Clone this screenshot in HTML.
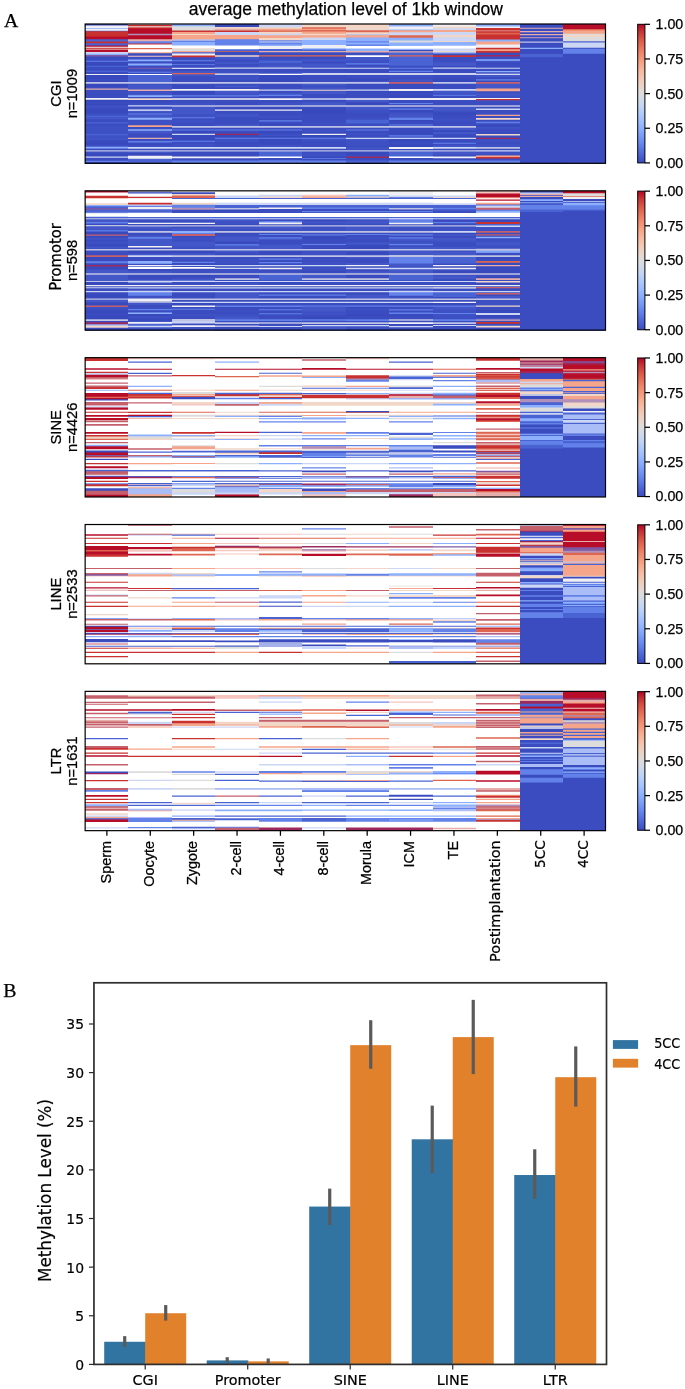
<!DOCTYPE html>
<html lang="en"><head><meta charset="utf-8"><title>average methylation level of 1kb window</title>
<style>html,body{margin:0;padding:0;background:#fff}body{width:685px;height:1389px;overflow:hidden}svg{display:block}.ca{stroke:#3b4cc0}.cb{stroke:#f0f0f4}.cc{stroke:#8db0fe}.cd{stroke:#4a63d3}.ce{stroke:#c8312f}.cf{stroke:#b70d28}.cg{stroke:#e6aeaa}.ch{stroke:#ccd6f5}.ci{stroke:#7f58a4}.cj{stroke:#6282ea}.ck{stroke:#3848bd}.cl{stroke:#bfc3e4}.cm{stroke:#3e51c4}.cn{stroke:#4357c9}.co{stroke:#b090b8}.cp{stroke:#ffffff}.cq{stroke:#de6651}.cr{stroke:#f4a58a}.cs{stroke:#f5c6c0}.ct{stroke:#f2d6c8}.cu{stroke:#dddcdc}.cv{stroke:#9c2a5c}.cw{stroke:#c4606c}.cx{stroke:#aabdf6}text{fill:#000;stroke:#000;stroke-width:.25px;stroke-linejoin:round}text.n{stroke-width:.2px}.s{font-family:"Liberation Sans", sans-serif}.d{font-family:"DejaVu Sans", sans-serif}.t{font-family:"Liberation Serif", serif}</style></head><body>
<svg width="685" height="1389" viewBox="0 0 685 1389">
<rect width="685" height="1389" fill="#fff"/>
<defs><linearGradient id="cw" x1="0" y1="1" x2="0" y2="0">
<stop offset="0" stop-color="#3b4cc0"/>
<stop offset="0.05" stop-color="#4961d2"/>
<stop offset="0.1" stop-color="#5977e3"/>
<stop offset="0.15" stop-color="#6a8bef"/>
<stop offset="0.2" stop-color="#7b9ff9"/>
<stop offset="0.25" stop-color="#8db0fe"/>
<stop offset="0.3" stop-color="#9ebeff"/>
<stop offset="0.35" stop-color="#afcafc"/>
<stop offset="0.4" stop-color="#c0d4f5"/>
<stop offset="0.45" stop-color="#cfdaea"/>
<stop offset="0.5" stop-color="#dddcdc"/>
<stop offset="0.55" stop-color="#e9d5cb"/>
<stop offset="0.6" stop-color="#f2cbb7"/>
<stop offset="0.65" stop-color="#f6bda2"/>
<stop offset="0.7" stop-color="#f7ac8e"/>
<stop offset="0.75" stop-color="#f4987a"/>
<stop offset="0.8" stop-color="#ee8468"/>
<stop offset="0.85" stop-color="#e36c55"/>
<stop offset="0.9" stop-color="#d65244"/>
<stop offset="0.95" stop-color="#c53334"/>
<stop offset="1" stop-color="#b40426"/>
</linearGradient>
</defs>
<text class="s" x="345.9" y="15.0" font-size="17.5" text-anchor="middle">average methylation level of 1kb window</text>
<text class="t" x="3.9" y="27.2" font-size="19.8" stroke="none">A</text>
<text class="t" x="3.2" y="997.0" font-size="19.8" stroke="none">B</text>
<g>
<g transform="translate(106.5 24)" stroke-width="43">
<path class="ca" d="M0 0V139.3"/><path class="cb" d="M0 1.6V139.3"/><path class="cc" d="M0 4.17V139.3"/><path class="cb" d="M0 4.94V139.3"/><path class="cd" d="M0 6.74V139.3"/><path class="ce" d="M0 7.25V139.3"/><path class="cf" d="M0 12.39V139.3"/><path class="cd" d="M0 15.34V139.3"/><path class="ce" d="M0 17.5V139.3"/><path class="cd" d="M0 19.35V139.3"/><path class="cf" d="M0 21.38V139.3"/><path class="cb" d="M0 22.67V139.3"/><path class="ce" d="M0 23.69V139.3"/><path class="cg" d="M0 24.72V139.3"/><path class="cf" d="M0 25.75V139.3"/><path class="ch" d="M0 28.06V139.3"/><path class="cc" d="M0 29.86V139.3"/><path class="ci" d="M0 30.89V139.3"/><path class="ca" d="M0 32.43V139.3"/><path class="cj" d="M0 36.67V139.3"/><path class="ck" d="M0 37.7V139.3"/><path class="cd" d="M0 41.68V139.3"/><path class="ca" d="M0 42.96V139.3"/><path class="cd" d="M0 46.82V139.3"/><path class="ca" d="M0 48.1V139.3"/><path class="cb" d="M0 49.91V139.3"/><path class="ck" d="M0 51.05V139.3"/><path class="ca" d="M0 54.91V139.3"/><path class="ck" d="M0 56.45V139.3"/><path class="cl" d="M0 57.96V139.3"/><path class="ck" d="M0 59.7V139.3"/><path class="ca" d="M0 62.8V139.3"/><path class="cg" d="M0 64.44V139.3"/><path class="ca" d="M0 65.68V139.3"/><path class="cb" d="M0 74V139.3"/><path class="ck" d="M0 75.64V139.3"/><path class="ca" d="M0 77.97V139.3"/><path class="ck" d="M0 79.86V139.3"/><path class="cm" d="M0 81.35V139.3"/><path class="ca" d="M0 83.87V139.3"/><path class="ck" d="M0 85.35V139.3"/><path class="cm" d="M0 89.42V139.3"/><path class="cd" d="M0 91.78V139.3"/><path class="cn" d="M0 93.07V139.3"/><path class="ca" d="M0 95.25V139.3"/><path class="cd" d="M0 98.21V139.3"/><path class="ca" d="M0 99.49V139.3"/><path class="cm" d="M0 102.3V139.3"/><path class="ca" d="M0 108.74V139.3"/><path class="cd" d="M0 109.77V139.3"/><path class="cn" d="M0 111.05V139.3"/><path class="cm" d="M0 112.57V139.3"/><path class="cn" d="M0 114.19V139.3"/><path class="ca" d="M0 115.78V139.3"/><path class="ck" d="M0 117.88V139.3"/><path class="cm" d="M0 120.63V139.3"/><path class="cc" d="M0 122.82V139.3"/><path class="ca" d="M0 124.46V139.3"/><path class="cl" d="M0 126.13V139.3"/><path class="cm" d="M0 127.57V139.3"/><path class="ck" d="M0 129.52V139.3"/><path class="ch" d="M0 132.42V139.3"/><path class="ca" d="M0 133.75V139.3"/><path class="cj" d="M0 136.64V139.3"/><path class="ca" d="M0 137.88V139.3"/>
</g>
<g transform="translate(150 24)" stroke-width="44">
<path class="cg" d="M0 0V139.3"/><path class="ce" d="M0 1.08V139.3"/><path class="cg" d="M0 2.11V139.3"/><path class="ce" d="M0 3.4V139.3"/><path class="cf" d="M0 4.42V139.3"/><path class="co" d="M0 9.82V139.3"/><path class="cf" d="M0 11.36V139.3"/><path class="cg" d="M0 15.34V139.3"/><path class="cj" d="M0 17.27V139.3"/><path class="ce" d="M0 19.58V139.3"/><path class="cp" d="M0 20.61V139.3"/><path class="cq" d="M0 23.95V139.3"/><path class="cp" d="M0 25.24V139.3"/><path class="cr" d="M0 28.32V139.3"/><path class="ca" d="M0 29.35V139.3"/><path class="cs" d="M0 31.79V139.3"/><path class="cm" d="M0 32.81V139.3"/><path class="cc" d="M0 35.49V139.3"/><path class="ca" d="M0 37.34V139.3"/><path class="cc" d="M0 39.6V139.3"/><path class="ca" d="M0 41.45V139.3"/><path class="ci" d="M0 43.63V139.3"/><path class="ca" d="M0 44.87V139.3"/><path class="cj" d="M0 47.72V139.3"/><path class="ca" d="M0 48.74V139.3"/><path class="cp" d="M0 49.91V139.3"/><path class="cd" d="M0 51.05V139.3"/><path class="cl" d="M0 57.96V139.3"/><path class="cm" d="M0 59.7V139.3"/><path class="cn" d="M0 61.12V139.3"/><path class="cg" d="M0 65.5V139.3"/><path class="cm" d="M0 66.94V139.3"/><path class="cn" d="M0 69.93V139.3"/><path class="cc" d="M0 71.2V139.3"/><path class="ca" d="M0 73.05V139.3"/><path class="ct" d="M0 74.26V139.3"/><path class="ck" d="M0 75.9V139.3"/><path class="ca" d="M0 77.88V139.3"/><path class="cm" d="M0 79.4V139.3"/><path class="ch" d="M0 81.17V139.3"/><path class="ca" d="M0 82.61V139.3"/><path class="cn" d="M0 84.16V139.3"/><path class="cb" d="M0 85.51V139.3"/><path class="cn" d="M0 86.75V139.3"/><path class="cm" d="M0 88.2V139.3"/><path class="cj" d="M0 89.6V139.3"/><path class="cn" d="M0 90.62V139.3"/><path class="cc" d="M0 93.81V139.3"/><path class="cm" d="M0 95.66V139.3"/><path class="cr" d="M0 101.24V139.3"/><path class="ca" d="M0 102.88V139.3"/><path class="cc" d="M0 105.32V139.3"/><path class="cn" d="M0 106.76V139.3"/><path class="ca" d="M0 109.36V139.3"/><path class="cg" d="M0 113.77V139.3"/><path class="ca" d="M0 115.01V139.3"/><path class="cj" d="M0 116.91V139.3"/><path class="ca" d="M0 118.56V139.3"/><path class="ck" d="M0 120.3V139.3"/><path class="cm" d="M0 121.62V139.3"/><path class="ch" d="M0 123.08V139.3"/><path class="ca" d="M0 124.72V139.3"/><path class="cl" d="M0 126.36V139.3"/><path class="cn" d="M0 127.6V139.3"/><path class="ck" d="M0 128.9V139.3"/><path class="cb" d="M0 131.86V139.3"/><path class="cd" d="M0 134.69V139.3"/>
</g>
<g transform="translate(193.5 24)" stroke-width="43">
<path class="cc" d="M0 0V139.3"/><path class="cu" d="M0 2.37V139.3"/><path class="ce" d="M0 6.48V139.3"/><path class="cr" d="M0 8.02V139.3"/><path class="ct" d="M0 10.08V139.3"/><path class="cr" d="M0 11.1V139.3"/><path class="cl" d="M0 15.21V139.3"/><path class="cj" d="M0 16.76V139.3"/><path class="cc" d="M0 18.04V139.3"/><path class="cp" d="M0 21.38V139.3"/><path class="ct" d="M0 24.21V139.3"/><path class="cu" d="M0 24.98V139.3"/><path class="cr" d="M0 27.03V139.3"/><path class="cd" d="M0 28.32V139.3"/><path class="cb" d="M0 29.6V139.3"/><path class="ce" d="M0 31.4V139.3"/><path class="ca" d="M0 33.2V139.3"/><path class="cj" d="M0 36.16V139.3"/><path class="ck" d="M0 37.18V139.3"/><path class="cj" d="M0 39.98V139.3"/><path class="ca" d="M0 40.81V139.3"/><path class="ch" d="M0 43.86V139.3"/><path class="ck" d="M0 44.89V139.3"/><path class="cn" d="M0 47.06V139.3"/><path class="cq" d="M0 49.02V139.3"/><path class="cn" d="M0 50.27V139.3"/><path class="ca" d="M0 52.31V139.3"/><path class="cl" d="M0 58.07V139.3"/><path class="ca" d="M0 59.72V139.3"/><path class="ck" d="M0 61.66V139.3"/><path class="ca" d="M0 63.16V139.3"/><path class="cb" d="M0 65.01V139.3"/><path class="ck" d="M0 66.65V139.3"/><path class="ca" d="M0 69.76V139.3"/><path class="cj" d="M0 71.36V139.3"/><path class="ca" d="M0 72.38V139.3"/><path class="cb" d="M0 74.23V139.3"/><path class="ca" d="M0 75.67V139.3"/><path class="cm" d="M0 78.14V139.3"/><path class="cl" d="M0 81.2V139.3"/><path class="cn" d="M0 82.84V139.3"/><path class="cm" d="M0 90.01V139.3"/><path class="cj" d="M0 93.2V139.3"/><path class="ca" d="M0 94.22V139.3"/><path class="cm" d="M0 95.69V139.3"/><path class="ca" d="M0 98.41V139.3"/><path class="cl" d="M0 102.01V139.3"/><path class="ca" d="M0 103.65V139.3"/><path class="cj" d="M0 105.53V139.3"/><path class="ck" d="M0 106.55V139.3"/><path class="ch" d="M0 109.66V139.3"/><path class="ck" d="M0 110.9V139.3"/><path class="cj" d="M0 116.84V139.3"/><path class="ca" d="M0 117.86V139.3"/><path class="cm" d="M0 119.73V139.3"/><path class="ch" d="M0 123.08V139.3"/><path class="ca" d="M0 124.72V139.3"/><path class="cl" d="M0 126.13V139.3"/><path class="ca" d="M0 127.57V139.3"/><path class="cb" d="M0 132.59V139.3"/><path class="ca" d="M0 134.22V139.3"/><path class="cj" d="M0 136.49V139.3"/>
</g>
<g transform="translate(237 24)" stroke-width="44">
<path class="ck" d="M0 0V139.3"/><path class="ct" d="M0 2.88V139.3"/><path class="cg" d="M0 4.68V139.3"/><path class="ce" d="M0 6.48V139.3"/><path class="ch" d="M0 8.02V139.3"/><path class="cr" d="M0 11.1V139.3"/><path class="cj" d="M0 15.21V139.3"/><path class="cp" d="M0 21.38V139.3"/><path class="cd" d="M0 25.24V139.3"/><path class="cq" d="M0 26.88V139.3"/><path class="ca" d="M0 27.7V139.3"/><path class="ct" d="M0 31.32V139.3"/><path class="cn" d="M0 32.76V139.3"/><path class="ca" d="M0 35.59V139.3"/><path class="cn" d="M0 38.3V139.3"/><path class="ca" d="M0 39.98V139.3"/><path class="cm" d="M0 41.95V139.3"/><path class="ch" d="M0 43.61V139.3"/><path class="ca" d="M0 44.63V139.3"/><path class="cm" d="M0 46.83V139.3"/><path class="cb" d="M0 49.54V139.3"/><path class="cm" d="M0 50.78V139.3"/><path class="ca" d="M0 56.04V139.3"/><path class="cl" d="M0 58.07V139.3"/><path class="ca" d="M0 59.72V139.3"/><path class="cn" d="M0 61.45V139.3"/><path class="ck" d="M0 63.39V139.3"/><path class="cb" d="M0 65.01V139.3"/><path class="cn" d="M0 66.65V139.3"/><path class="cm" d="M0 69.55V139.3"/><path class="cj" d="M0 71.36V139.3"/><path class="ca" d="M0 72.38V139.3"/><path class="cb" d="M0 74.23V139.3"/><path class="ca" d="M0 75.67V139.3"/><path class="cl" d="M0 81.2V139.3"/><path class="ca" d="M0 82.84V139.3"/><path class="cb" d="M0 85.51V139.3"/><path class="ca" d="M0 86.75V139.3"/><path class="cm" d="M0 88.95V139.3"/><path class="cn" d="M0 91.08V139.3"/><path class="ca" d="M0 92.54V139.3"/><path class="cn" d="M0 100.59V139.3"/><path class="cl" d="M0 102.01V139.3"/><path class="ca" d="M0 103.65V139.3"/><path class="cj" d="M0 105.53V139.3"/><path class="ca" d="M0 106.55V139.3"/><path class="cv" d="M0 109.66V139.3"/><path class="ck" d="M0 110.9V139.3"/><path class="cj" d="M0 113.75V139.3"/><path class="cm" d="M0 114.78V139.3"/><path class="ck" d="M0 117.94V139.3"/><path class="ca" d="M0 119.54V139.3"/><path class="ch" d="M0 123.08V139.3"/><path class="ca" d="M0 124.72V139.3"/><path class="cl" d="M0 126.13V139.3"/><path class="ca" d="M0 127.57V139.3"/><path class="cb" d="M0 132.59V139.3"/><path class="ca" d="M0 134.22V139.3"/><path class="cj" d="M0 136.49V139.3"/>
</g>
<g transform="translate(280.5 24)" stroke-width="43">
<path class="ch" d="M0 0V139.3"/><path class="ct" d="M0 3.14V139.3"/><path class="cr" d="M0 4.68V139.3"/><path class="cq" d="M0 6.48V139.3"/><path class="cr" d="M0 7.76V139.3"/><path class="ct" d="M0 8.02V139.3"/><path class="ch" d="M0 9.82V139.3"/><path class="cr" d="M0 11.36V139.3"/><path class="ct" d="M0 14.06V139.3"/><path class="cj" d="M0 16.24V139.3"/><path class="ch" d="M0 17.53V139.3"/><path class="cj" d="M0 18.55V139.3"/><path class="cc" d="M0 20.61V139.3"/><path class="cb" d="M0 21.9V139.3"/><path class="cd" d="M0 24.98V139.3"/><path class="cg" d="M0 26.93V139.3"/><path class="ca" d="M0 28.17V139.3"/><path class="cq" d="M0 31.3V139.3"/><path class="ca" d="M0 32.53V139.3"/><path class="cd" d="M0 36.54V139.3"/><path class="cm" d="M0 39.11V139.3"/><path class="cn" d="M0 41.86V139.3"/><path class="ch" d="M0 43.61V139.3"/><path class="ca" d="M0 44.63V139.3"/><path class="cm" d="M0 47.52V139.3"/><path class="cp" d="M0 49.8V139.3"/><path class="ck" d="M0 51.03V139.3"/><path class="cl" d="M0 58.07V139.3"/><path class="ca" d="M0 59.72V139.3"/><path class="ch" d="M0 65.47V139.3"/><path class="ca" d="M0 66.71V139.3"/><path class="cn" d="M0 69.16V139.3"/><path class="cj" d="M0 70.86V139.3"/><path class="ca" d="M0 72.1V139.3"/><path class="cb" d="M0 74.26V139.3"/><path class="ca" d="M0 75.9V139.3"/><path class="cm" d="M0 78.38V139.3"/><path class="cl" d="M0 81.2V139.3"/><path class="ck" d="M0 82.84V139.3"/><path class="cb" d="M0 85.51V139.3"/><path class="ca" d="M0 86.75V139.3"/><path class="cm" d="M0 92.08V139.3"/><path class="ca" d="M0 93.85V139.3"/><path class="ck" d="M0 95.23V139.3"/><path class="cj" d="M0 96.3V139.3"/><path class="ca" d="M0 97.54V139.3"/><path class="ck" d="M0 98.89V139.3"/><path class="cl" d="M0 102.01V139.3"/><path class="ca" d="M0 103.65V139.3"/><path class="cj" d="M0 105.53V139.3"/><path class="ck" d="M0 106.55V139.3"/><path class="cm" d="M0 109.7V139.3"/><path class="ck" d="M0 111.97V139.3"/><path class="cj" d="M0 113.75V139.3"/><path class="ck" d="M0 114.78V139.3"/><path class="cm" d="M0 120.7V139.3"/><path class="ch" d="M0 123.08V139.3"/><path class="ca" d="M0 124.72V139.3"/><path class="cl" d="M0 126.13V139.3"/><path class="cd" d="M0 127.57V139.3"/><path class="cp" d="M0 132.56V139.3"/><path class="ca" d="M0 134V139.3"/><path class="cj" d="M0 136.23V139.3"/>
</g>
<g transform="translate(324 24)" stroke-width="44">
<path class="ct" d="M0 0V139.3"/><path class="cq" d="M0 3.14V139.3"/><path class="cr" d="M0 4.68V139.3"/><path class="cq" d="M0 5.97V139.3"/><path class="cr" d="M0 7.51V139.3"/><path class="ct" d="M0 9.82V139.3"/><path class="cr" d="M0 11.36V139.3"/><path class="ch" d="M0 13.42V139.3"/><path class="cc" d="M0 15.99V139.3"/><path class="cb" d="M0 21.12V139.3"/><path class="cc" d="M0 24.21V139.3"/><path class="cd" d="M0 25.49V139.3"/><path class="cg" d="M0 26.93V139.3"/><path class="ca" d="M0 28.17V139.3"/><path class="cq" d="M0 31.3V139.3"/><path class="ca" d="M0 32.53V139.3"/><path class="cn" d="M0 35.43V139.3"/><path class="ca" d="M0 37.52V139.3"/><path class="cn" d="M0 39.66V139.3"/><path class="cm" d="M0 42.24V139.3"/><path class="ch" d="M0 43.63V139.3"/><path class="ca" d="M0 44.87V139.3"/><path class="cm" d="M0 47.66V139.3"/><path class="cp" d="M0 49.31V139.3"/><path class="ca" d="M0 50.75V139.3"/><path class="cl" d="M0 58.07V139.3"/><path class="cn" d="M0 59.72V139.3"/><path class="ca" d="M0 61.77V139.3"/><path class="cn" d="M0 63.38V139.3"/><path class="ct" d="M0 65.7V139.3"/><path class="cn" d="M0 66.73V139.3"/><path class="ca" d="M0 69.92V139.3"/><path class="ch" d="M0 74.23V139.3"/><path class="ca" d="M0 75.67V139.3"/><path class="cn" d="M0 78.34V139.3"/><path class="cl" d="M0 81.2V139.3"/><path class="ca" d="M0 82.84V139.3"/><path class="ck" d="M0 84.98V139.3"/><path class="ca" d="M0 89.5V139.3"/><path class="cm" d="M0 98.94V139.3"/><path class="ca" d="M0 100.4V139.3"/><path class="cl" d="M0 102.01V139.3"/><path class="ca" d="M0 103.65V139.3"/><path class="cm" d="M0 105.47V139.3"/><path class="ck" d="M0 108.33V139.3"/><path class="cb" d="M0 109.66V139.3"/><path class="ck" d="M0 110.9V139.3"/><path class="cj" d="M0 113.75V139.3"/><path class="cm" d="M0 114.78V139.3"/><path class="ca" d="M0 117.02V139.3"/><path class="ch" d="M0 123.08V139.3"/><path class="ca" d="M0 124.72V139.3"/><path class="cl" d="M0 126.13V139.3"/><path class="ca" d="M0 127.57V139.3"/><path class="cm" d="M0 129.38V139.3"/><path class="ca" d="M0 131.89V139.3"/><path class="cj" d="M0 134.02V139.3"/><path class="ca" d="M0 134.85V139.3"/><path class="cj" d="M0 136.49V139.3"/>
</g>
<g transform="translate(367.5 24)" stroke-width="43">
<path class="ct" d="M0 0V139.3"/><path class="cu" d="M0 5.45V139.3"/><path class="cq" d="M0 6.22V139.3"/><path class="ct" d="M0 8.28V139.3"/><path class="cl" d="M0 10.08V139.3"/><path class="cr" d="M0 11.36V139.3"/><path class="cc" d="M0 13.42V139.3"/><path class="cj" d="M0 17.27V139.3"/><path class="cc" d="M0 18.55V139.3"/><path class="cj" d="M0 20.61V139.3"/><path class="cp" d="M0 21.9V139.3"/><path class="cc" d="M0 24.46V139.3"/><path class="cg" d="M0 27.03V139.3"/><path class="ca" d="M0 28.58V139.3"/><path class="cm" d="M0 30.01V139.3"/><path class="cp" d="M0 31.35V139.3"/><path class="cn" d="M0 32.99V139.3"/><path class="cm" d="M0 36.18V139.3"/><path class="cj" d="M0 39.26V139.3"/><path class="ca" d="M0 40.5V139.3"/><path class="ch" d="M0 43.63V139.3"/><path class="ca" d="M0 44.87V139.3"/><path class="cp" d="M0 49.31V139.3"/><path class="ca" d="M0 50.75V139.3"/><path class="cm" d="M0 52.55V139.3"/><path class="ck" d="M0 54.23V139.3"/><path class="cm" d="M0 56.73V139.3"/><path class="cl" d="M0 58.07V139.3"/><path class="ca" d="M0 59.72V139.3"/><path class="ch" d="M0 65.47V139.3"/><path class="ck" d="M0 66.71V139.3"/><path class="ca" d="M0 68.04V139.3"/><path class="cb" d="M0 74.23V139.3"/><path class="cn" d="M0 75.67V139.3"/><path class="ck" d="M0 78.22V139.3"/><path class="cl" d="M0 81.2V139.3"/><path class="cn" d="M0 82.84V139.3"/><path class="cm" d="M0 85.73V139.3"/><path class="ca" d="M0 88.87V139.3"/><path class="cm" d="M0 93.43V139.3"/><path class="cd" d="M0 95.64V139.3"/><path class="ca" d="M0 99.49V139.3"/><path class="cl" d="M0 102.01V139.3"/><path class="ca" d="M0 103.65V139.3"/><path class="cj" d="M0 105.53V139.3"/><path class="ca" d="M0 106.55V139.3"/><path class="cm" d="M0 109.72V139.3"/><path class="ca" d="M0 111.04V139.3"/><path class="ch" d="M0 113.77V139.3"/><path class="cn" d="M0 115.01V139.3"/><path class="cm" d="M0 116.47V139.3"/><path class="ca" d="M0 121.86V139.3"/><path class="cn" d="M0 123.24V139.3"/><path class="cm" d="M0 124.84V139.3"/><path class="cl" d="M0 126.13V139.3"/><path class="ck" d="M0 127.57V139.3"/><path class="ca" d="M0 130.7V139.3"/><path class="cv" d="M0 132.56V139.3"/><path class="ca" d="M0 134V139.3"/><path class="cd" d="M0 136.49V139.3"/>
</g>
<g transform="translate(411 24)" stroke-width="44">
<path class="cc" d="M0 0V139.3"/><path class="cb" d="M0 2.62V139.3"/><path class="cc" d="M0 5.45V139.3"/><path class="cr" d="M0 6.22V139.3"/><path class="ch" d="M0 8.28V139.3"/><path class="cq" d="M0 11.36V139.3"/><path class="cc" d="M0 13.67V139.3"/><path class="cu" d="M0 16.5V139.3"/><path class="cc" d="M0 18.55V139.3"/><path class="cp" d="M0 21.9V139.3"/><path class="cc" d="M0 24.72V139.3"/><path class="ca" d="M0 26.01V139.3"/><path class="cg" d="M0 27.19V139.3"/><path class="cd" d="M0 28.42V139.3"/><path class="cq" d="M0 31.3V139.3"/><path class="cd" d="M0 32.53V139.3"/><path class="ca" d="M0 41.68V139.3"/><path class="cj" d="M0 43.63V139.3"/><path class="ca" d="M0 44.87V139.3"/><path class="cj" d="M0 46.71V139.3"/><path class="ca" d="M0 47.95V139.3"/><path class="cp" d="M0 49.31V139.3"/><path class="cm" d="M0 50.75V139.3"/><path class="ca" d="M0 53.88V139.3"/><path class="cn" d="M0 55.6V139.3"/><path class="cm" d="M0 56.9V139.3"/><path class="cw" d="M0 58.07V139.3"/><path class="ca" d="M0 59.72V139.3"/><path class="cb" d="M0 65.03V139.3"/><path class="ck" d="M0 66.89V139.3"/><path class="ca" d="M0 68.46V139.3"/><path class="ck" d="M0 71.71V139.3"/><path class="cb" d="M0 74.03V139.3"/><path class="ca" d="M0 75.88V139.3"/><path class="cj" d="M0 79.07V139.3"/><path class="ca" d="M0 80.09V139.3"/><path class="cl" d="M0 81.2V139.3"/><path class="ca" d="M0 82.84V139.3"/><path class="cj" d="M0 84.48V139.3"/><path class="ck" d="M0 85.72V139.3"/><path class="cm" d="M0 88.27V139.3"/><path class="cn" d="M0 90.31V139.3"/><path class="cj" d="M0 93.84V139.3"/><path class="ck" d="M0 95.89V139.3"/><path class="ca" d="M0 97.48V139.3"/><path class="cj" d="M0 100.39V139.3"/><path class="ca" d="M0 101.42V139.3"/><path class="cl" d="M0 102.01V139.3"/><path class="ck" d="M0 103.65V139.3"/><path class="cj" d="M0 111.2V139.3"/><path class="ca" d="M0 112.44V139.3"/><path class="ch" d="M0 113.77V139.3"/><path class="ck" d="M0 115.01V139.3"/><path class="ca" d="M0 117.74V139.3"/><path class="ck" d="M0 120.62V139.3"/><path class="cb" d="M0 123.1V139.3"/><path class="ca" d="M0 124.95V139.3"/><path class="cl" d="M0 126.13V139.3"/><path class="cd" d="M0 127.57V139.3"/><path class="cp" d="M0 132.56V139.3"/><path class="ca" d="M0 134V139.3"/><path class="cj" d="M0 136.49V139.3"/>
</g>
<g transform="translate(454.5 24)" stroke-width="43">
<path class="cb" d="M0 0V139.3"/><path class="ct" d="M0 2.62V139.3"/><path class="ch" d="M0 4.17V139.3"/><path class="cr" d="M0 5.97V139.3"/><path class="ch" d="M0 8.02V139.3"/><path class="ct" d="M0 11.1V139.3"/><path class="ch" d="M0 13.16V139.3"/><path class="ct" d="M0 17.01V139.3"/><path class="cc" d="M0 18.04V139.3"/><path class="cp" d="M0 21.64V139.3"/><path class="ch" d="M0 24.46V139.3"/><path class="ct" d="M0 27.03V139.3"/><path class="cc" d="M0 28.32V139.3"/><path class="ca" d="M0 29.6V139.3"/><path class="ce" d="M0 31.35V139.3"/><path class="ca" d="M0 32.99V139.3"/><path class="cm" d="M0 37.27V139.3"/><path class="cn" d="M0 38.82V139.3"/><path class="ck" d="M0 41.95V139.3"/><path class="ch" d="M0 43.61V139.3"/><path class="ca" d="M0 44.63V139.3"/><path class="cp" d="M0 49.31V139.3"/><path class="ca" d="M0 50.75V139.3"/><path class="ck" d="M0 55.15V139.3"/><path class="cl" d="M0 58.07V139.3"/><path class="ca" d="M0 59.72V139.3"/><path class="ch" d="M0 65.01V139.3"/><path class="cn" d="M0 66.65V139.3"/><path class="ca" d="M0 69.37V139.3"/><path class="cj" d="M0 70.84V139.3"/><path class="ca" d="M0 71.87V139.3"/><path class="cb" d="M0 74.03V139.3"/><path class="ca" d="M0 75.88V139.3"/><path class="cl" d="M0 81.2V139.3"/><path class="cn" d="M0 82.84V139.3"/><path class="cm" d="M0 86.82V139.3"/><path class="ck" d="M0 88.27V139.3"/><path class="ca" d="M0 91.02V139.3"/><path class="cm" d="M0 94.97V139.3"/><path class="ca" d="M0 96.9V139.3"/><path class="cl" d="M0 102.01V139.3"/><path class="cn" d="M0 103.65V139.3"/><path class="ck" d="M0 106.27V139.3"/><path class="cn" d="M0 108.12V139.3"/><path class="ca" d="M0 109.96V139.3"/><path class="ck" d="M0 112.15V139.3"/><path class="ch" d="M0 113.77V139.3"/><path class="ca" d="M0 115.01V139.3"/><path class="cj" d="M0 118.86V139.3"/><path class="ca" d="M0 119.69V139.3"/><path class="cn" d="M0 121.54V139.3"/><path class="ch" d="M0 123.08V139.3"/><path class="ca" d="M0 124.72V139.3"/><path class="cl" d="M0 126.13V139.3"/><path class="cn" d="M0 127.57V139.3"/><path class="ca" d="M0 130.76V139.3"/><path class="cb" d="M0 132.59V139.3"/><path class="ca" d="M0 134.22V139.3"/><path class="cj" d="M0 136.49V139.3"/>
</g>
<g transform="translate(498 24)" stroke-width="44">
<path class="cc" d="M0 0V139.3"/><path class="cb" d="M0 2.62V139.3"/><path class="ce" d="M0 3.91V139.3"/><path class="cg" d="M0 6.48V139.3"/><path class="ce" d="M0 7.25V139.3"/><path class="cq" d="M0 8.79V139.3"/><path class="ce" d="M0 10.59V139.3"/><path class="cc" d="M0 15.47V139.3"/><path class="cr" d="M0 17.53V139.3"/><path class="cb" d="M0 20.61V139.3"/><path class="ce" d="M0 23.69V139.3"/><path class="cr" d="M0 25.24V139.3"/><path class="ce" d="M0 27.03V139.3"/><path class="ca" d="M0 28.83V139.3"/><path class="cv" d="M0 31.07V139.3"/><path class="ca" d="M0 32.51V139.3"/><path class="ck" d="M0 33.95V139.3"/><path class="cc" d="M0 35.2V139.3"/><path class="cm" d="M0 36.84V139.3"/><path class="ck" d="M0 38.64V139.3"/><path class="ca" d="M0 40.19V139.3"/><path class="ch" d="M0 43.63V139.3"/><path class="ca" d="M0 44.87V139.3"/><path class="cc" d="M0 46.97V139.3"/><path class="ca" d="M0 48.21V139.3"/><path class="cp" d="M0 49.77V139.3"/><path class="cn" d="M0 50.8V139.3"/><path class="ca" d="M0 53.05V139.3"/><path class="cj" d="M0 55.19V139.3"/><path class="ca" d="M0 56.43V139.3"/><path class="cw" d="M0 58.07V139.3"/><path class="cn" d="M0 59.72V139.3"/><path class="cr" d="M0 64.55V139.3"/><path class="ca" d="M0 67.37V139.3"/><path class="cn" d="M0 69.24V139.3"/><path class="cm" d="M0 71.33V139.3"/><path class="cb" d="M0 74.05V139.3"/><path class="ce" d="M0 75.08V139.3"/><path class="cm" d="M0 76.37V139.3"/><path class="ca" d="M0 77.67V139.3"/><path class="cl" d="M0 81.2V139.3"/><path class="ca" d="M0 82.84V139.3"/><path class="ch" d="M0 84.51V139.3"/><path class="ca" d="M0 85.95V139.3"/><path class="cm" d="M0 89.04V139.3"/><path class="cr" d="M0 90.65V139.3"/><path class="ca" d="M0 91.89V139.3"/><path class="ct" d="M0 94.05V139.3"/><path class="ca" d="M0 95.69V139.3"/><path class="cj" d="M0 97.87V139.3"/><path class="ca" d="M0 99.31V139.3"/><path class="ck" d="M0 101.09V139.3"/><path class="cn" d="M0 103.14V139.3"/><path class="ca" d="M0 104.58V139.3"/><path class="ct" d="M0 109.95V139.3"/><path class="ca" d="M0 111.39V139.3"/><path class="cv" d="M0 113.77V139.3"/><path class="cm" d="M0 115.01V139.3"/><path class="ca" d="M0 117.89V139.3"/><path class="cm" d="M0 120.4V139.3"/><path class="cl" d="M0 123.08V139.3"/><path class="ca" d="M0 124.72V139.3"/><path class="ch" d="M0 126.13V139.3"/><path class="cm" d="M0 127.57V139.3"/><path class="cr" d="M0 131.61V139.3"/><path class="ce" d="M0 132.89V139.3"/><path class="ca" d="M0 134.43V139.3"/><path class="cj" d="M0 136.49V139.3"/>
</g>
<g transform="translate(541.5 24)" stroke-width="43">
<path class="ca" d="M0 0V139.3"/><path class="cg" d="M0 3.78V139.3"/><path class="ca" d="M0 4.81V139.3"/><path class="cg" d="M0 6.89V139.3"/><path class="ca" d="M0 8.13V139.3"/><path class="cg" d="M0 9.97V139.3"/><path class="ca" d="M0 11.21V139.3"/><path class="co" d="M0 13.05V139.3"/><path class="ca" d="M0 14.29V139.3"/><path class="cl" d="M0 17.42V139.3"/><path class="ca" d="M0 18.66V139.3"/><path class="cc" d="M0 23.85V139.3"/><path class="ca" d="M0 25.08V139.3"/><path class="cd" d="M0 30.12V139.3"/><path class="ca" d="M0 33.33V139.3"/>
</g>
<g transform="translate(584.5 24)" stroke-width="43">
<path class="cf" d="M0 0V139.3"/><path class="cq" d="M0 4.94V139.3"/><path class="cr" d="M0 6.22V139.3"/><path class="cu" d="M0 9.82V139.3"/><path class="ct" d="M0 11.1V139.3"/><path class="cu" d="M0 12.9V139.3"/><path class="cd" d="M0 17.27V139.3"/><path class="ch" d="M0 18.55V139.3"/><path class="ca" d="M0 23.69V139.3"/><path class="cj" d="M0 24.72V139.3"/><path class="ca" d="M0 29.86V139.3"/>
</g>
<rect x="85.15" y="24" width="520.35" height="139.3" fill="none" stroke="#000" stroke-width="1.2"/>
<text class="s" transform="translate(61.2 93.65) rotate(-90)" font-size="14.8" text-anchor="middle">CGI</text>
<text class="s" transform="translate(76.8 93.65) rotate(-90)" font-size="14.7" text-anchor="middle">n=1009</text>
<rect x="637.7" y="24.3" width="7.2" height="138.6" fill="url(#cw)" stroke="#000" stroke-width="1"/>
<path d="M644.9 24.3H650" stroke="#000" stroke-width="1.25"/>
<text class="s" x="655.6" y="29.2" font-size="14.2">1.00</text>
<path d="M644.9 58.95H650" stroke="#000" stroke-width="1.25"/>
<text class="s" x="655.6" y="63.85" font-size="14.2">0.75</text>
<path d="M644.9 93.6H650" stroke="#000" stroke-width="1.25"/>
<text class="s" x="655.6" y="98.5" font-size="14.2">0.50</text>
<path d="M644.9 128.25H650" stroke="#000" stroke-width="1.25"/>
<text class="s" x="655.6" y="133.15" font-size="14.2">0.25</text>
<path d="M644.9 162.9H650" stroke="#000" stroke-width="1.25"/>
<text class="s" x="655.6" y="167.8" font-size="14.2">0.00</text>
</g>
<g>
<g transform="translate(106.5 190.84)" stroke-width="43">
<path class="cf" d="M0 0V139.3"/><path class="cp" d="M0 1.76V139.3"/><path class="ce" d="M0 4.84V139.3"/><path class="cs" d="M0 7.15V139.3"/><path class="cp" d="M0 8.18V139.3"/><path class="ct" d="M0 12.29V139.3"/><path class="cc" d="M0 14.09V139.3"/><path class="cd" d="M0 15.37V139.3"/><path class="ci" d="M0 17.38V139.3"/><path class="cd" d="M0 19.02V139.3"/><path class="ch" d="M0 21.8V139.3"/><path class="cp" d="M0 22.57V139.3"/><path class="cd" d="M0 25.91V139.3"/><path class="cl" d="M0 27.32V139.3"/><path class="cn" d="M0 28.35V139.3"/><path class="cj" d="M0 31.23V139.3"/><path class="ca" d="M0 32.67V139.3"/><path class="cl" d="M0 34.28V139.3"/><path class="cn" d="M0 35.52V139.3"/><path class="cj" d="M0 39.42V139.3"/><path class="ck" d="M0 40.66V139.3"/><path class="cw" d="M0 43.56V139.3"/><path class="ca" d="M0 45V139.3"/><path class="cn" d="M0 47.34V139.3"/><path class="ca" d="M0 48.74V139.3"/><path class="cm" d="M0 50.89V139.3"/><path class="ck" d="M0 53.42V139.3"/><path class="cn" d="M0 55.64V139.3"/><path class="cm" d="M0 57.18V139.3"/><path class="cl" d="M0 58.21V139.3"/><path class="cm" d="M0 59.64V139.3"/><path class="ca" d="M0 61.51V139.3"/><path class="cw" d="M0 64.4V139.3"/><path class="ck" d="M0 66.04V139.3"/><path class="ca" d="M0 67.92V139.3"/><path class="cj" d="M0 70.36V139.3"/><path class="ca" d="M0 72.41V139.3"/><path class="cv" d="M0 74.14V139.3"/><path class="ca" d="M0 75.58V139.3"/><path class="ck" d="M0 77.2V139.3"/><path class="cn" d="M0 78.64V139.3"/><path class="cl" d="M0 82.36V139.3"/><path class="cn" d="M0 83.8V139.3"/><path class="cl" d="M0 90.04V139.3"/><path class="ck" d="M0 91.28V139.3"/><path class="cb" d="M0 94.15V139.3"/><path class="ca" d="M0 95.39V139.3"/><path class="ch" d="M0 96.44V139.3"/><path class="ca" d="M0 97.46V139.3"/><path class="ch" d="M0 100.06V139.3"/><path class="ck" d="M0 101.3V139.3"/><path class="ca" d="M0 102.93V139.3"/><path class="ck" d="M0 104.4V139.3"/><path class="ca" d="M0 106.4V139.3"/><path class="cl" d="M0 107.54V139.3"/><path class="cn" d="M0 108.98V139.3"/><path class="ck" d="M0 111.7V139.3"/><path class="cw" d="M0 114.73V139.3"/><path class="cm" d="M0 116.17V139.3"/><path class="ca" d="M0 117.87V139.3"/><path class="ck" d="M0 119.81V139.3"/><path class="ca" d="M0 122.06V139.3"/><path class="ck" d="M0 125.2V139.3"/><path class="cl" d="M0 128.4V139.3"/><path class="ca" d="M0 130.25V139.3"/><path class="cv" d="M0 131.51V139.3"/><path class="cc" d="M0 133.31V139.3"/><path class="ct" d="M0 134.59V139.3"/><path class="ca" d="M0 136.91V139.3"/>
</g>
<g transform="translate(150 190.84)" stroke-width="44">
<path class="cl" d="M0 0V139.3"/><path class="ca" d="M0 1.5V139.3"/><path class="cp" d="M0 2.78V139.3"/><path class="ce" d="M0 5.87V139.3"/><path class="cb" d="M0 7.15V139.3"/><path class="cp" d="M0 8.18V139.3"/><path class="ce" d="M0 12.03V139.3"/><path class="ch" d="M0 13.58V139.3"/><path class="cj" d="M0 14.86V139.3"/><path class="cb" d="M0 16.15V139.3"/><path class="cd" d="M0 18.46V139.3"/><path class="cp" d="M0 21.8V139.3"/><path class="cd" d="M0 26.17V139.3"/><path class="ch" d="M0 27.32V139.3"/><path class="ca" d="M0 28.35V139.3"/><path class="cb" d="M0 31.97V139.3"/><path class="ca" d="M0 33.21V139.3"/><path class="cl" d="M0 34.52V139.3"/><path class="cn" d="M0 35.54V139.3"/><path class="cm" d="M0 37.57V139.3"/><path class="cl" d="M0 40.25V139.3"/><path class="ca" d="M0 41.89V139.3"/><path class="cn" d="M0 44.81V139.3"/><path class="cj" d="M0 46.16V139.3"/><path class="cn" d="M0 47.8V139.3"/><path class="cb" d="M0 55.12V139.3"/><path class="ca" d="M0 56.56V139.3"/><path class="cl" d="M0 58.21V139.3"/><path class="ck" d="M0 59.64V139.3"/><path class="cn" d="M0 62.71V139.3"/><path class="ch" d="M0 64.4V139.3"/><path class="ca" d="M0 66.04V139.3"/><path class="cc" d="M0 70.1V139.3"/><path class="ca" d="M0 72.93V139.3"/><path class="cb" d="M0 74.11V139.3"/><path class="cd" d="M0 75.35V139.3"/><path class="cp" d="M0 76.24V139.3"/><path class="ca" d="M0 78.09V139.3"/><path class="cn" d="M0 80.38V139.3"/><path class="cl" d="M0 82.36V139.3"/><path class="ca" d="M0 83.8V139.3"/><path class="cm" d="M0 88.31V139.3"/><path class="ch" d="M0 89.86V139.3"/><path class="ca" d="M0 91.71V139.3"/><path class="cb" d="M0 94.15V139.3"/><path class="ca" d="M0 95.39V139.3"/><path class="ch" d="M0 96.46V139.3"/><path class="ca" d="M0 97.7V139.3"/><path class="ch" d="M0 99.91V139.3"/><path class="cj" d="M0 101.45V139.3"/><path class="cm" d="M0 104.79V139.3"/><path class="cb" d="M0 107.62V139.3"/><path class="cl" d="M0 110.18V139.3"/><path class="cn" d="M0 111.98V139.3"/><path class="ca" d="M0 114.28V139.3"/><path class="cm" d="M0 116.91V139.3"/><path class="cj" d="M0 118.28V139.3"/><path class="ca" d="M0 119.3V139.3"/><path class="cc" d="M0 121.67V139.3"/><path class="ck" d="M0 123.11V139.3"/><path class="cm" d="M0 125.41V139.3"/><path class="ck" d="M0 127.07V139.3"/><path class="cn" d="M0 130.1V139.3"/><path class="cb" d="M0 131.21V139.3"/><path class="cd" d="M0 132.84V139.3"/><path class="ch" d="M0 134.8V139.3"/><path class="cm" d="M0 136.44V139.3"/><path class="ca" d="M0 138.27V139.3"/>
</g>
<g transform="translate(193.5 190.84)" stroke-width="43">
<path class="cp" d="M0 0V139.3"/><path class="ca" d="M0 1.5V139.3"/><path class="ct" d="M0 3.04V139.3"/><path class="cq" d="M0 4.58V139.3"/><path class="cd" d="M0 7.15V139.3"/><path class="cp" d="M0 8.18V139.3"/><path class="ct" d="M0 12.03V139.3"/><path class="cj" d="M0 13.83V139.3"/><path class="co" d="M0 16.92V139.3"/><path class="ca" d="M0 18.97V139.3"/><path class="cp" d="M0 22.06V139.3"/><path class="cd" d="M0 26.17V139.3"/><path class="ch" d="M0 27.32V139.3"/><path class="ca" d="M0 28.35V139.3"/><path class="cm" d="M0 30.69V139.3"/><path class="cb" d="M0 31.97V139.3"/><path class="ca" d="M0 33.21V139.3"/><path class="cl" d="M0 34.52V139.3"/><path class="ca" d="M0 35.54V139.3"/><path class="cn" d="M0 36.95V139.3"/><path class="cc" d="M0 40.04V139.3"/><path class="cj" d="M0 42.1V139.3"/><path class="cw" d="M0 43.12V139.3"/><path class="ca" d="M0 45.18V139.3"/><path class="cm" d="M0 46.63V139.3"/><path class="ca" d="M0 49.2V139.3"/><path class="cn" d="M0 50.93V139.3"/><path class="cm" d="M0 55.54V139.3"/><path class="cl" d="M0 58.21V139.3"/><path class="ck" d="M0 59.64V139.3"/><path class="cn" d="M0 62.35V139.3"/><path class="cl" d="M0 64.4V139.3"/><path class="cm" d="M0 66.04V139.3"/><path class="ca" d="M0 69.19V139.3"/><path class="cj" d="M0 71.02V139.3"/><path class="ca" d="M0 72.26V139.3"/><path class="ch" d="M0 74.09V139.3"/><path class="ca" d="M0 75.11V139.3"/><path class="cp" d="M0 76.22V139.3"/><path class="ca" d="M0 77.86V139.3"/><path class="cm" d="M0 79.6V139.3"/><path class="cl" d="M0 82.36V139.3"/><path class="ck" d="M0 83.8V139.3"/><path class="ca" d="M0 85.31V139.3"/><path class="cn" d="M0 87.55V139.3"/><path class="ch" d="M0 89.81V139.3"/><path class="ca" d="M0 91.25V139.3"/><path class="cb" d="M0 94.15V139.3"/><path class="ca" d="M0 95.39V139.3"/><path class="ch" d="M0 96.46V139.3"/><path class="ca" d="M0 97.7V139.3"/><path class="ch" d="M0 100.06V139.3"/><path class="ca" d="M0 101.3V139.3"/><path class="cl" d="M0 107.56V139.3"/><path class="ca" d="M0 109.2V139.3"/><path class="ch" d="M0 110.85V139.3"/><path class="ck" d="M0 112.09V139.3"/><path class="cb" d="M0 114.73V139.3"/><path class="ca" d="M0 116.17V139.3"/><path class="cj" d="M0 117.79V139.3"/><path class="ca" d="M0 119.03V139.3"/><path class="cm" d="M0 123.24V139.3"/><path class="ca" d="M0 125.29V139.3"/><path class="cl" d="M0 128.17V139.3"/><path class="ch" d="M0 130.74V139.3"/><path class="ca" d="M0 132.54V139.3"/><path class="cb" d="M0 134.31V139.3"/><path class="cm" d="M0 136.16V139.3"/>
</g>
<g transform="translate(237 190.84)" stroke-width="44">
<path class="cp" d="M0 0V139.3"/><path class="ch" d="M0 4.58V139.3"/><path class="cd" d="M0 7.15V139.3"/><path class="cp" d="M0 8.18V139.3"/><path class="ch" d="M0 12.03V139.3"/><path class="cd" d="M0 14.09V139.3"/><path class="cl" d="M0 17.12V139.3"/><path class="ck" d="M0 18.77V139.3"/><path class="ca" d="M0 20.43V139.3"/><path class="cp" d="M0 22.06V139.3"/><path class="cd" d="M0 26.17V139.3"/><path class="ch" d="M0 27.32V139.3"/><path class="cn" d="M0 28.35V139.3"/><path class="cm" d="M0 30.24V139.3"/><path class="ca" d="M0 33.14V139.3"/><path class="cl" d="M0 34.52V139.3"/><path class="cm" d="M0 35.54V139.3"/><path class="cn" d="M0 36.85V139.3"/><path class="ca" d="M0 38.3V139.3"/><path class="cl" d="M0 40.25V139.3"/><path class="ca" d="M0 41.89V139.3"/><path class="cm" d="M0 44.26V139.3"/><path class="cn" d="M0 46.28V139.3"/><path class="ck" d="M0 50.61V139.3"/><path class="ca" d="M0 52.28V139.3"/><path class="cj" d="M0 53.53V139.3"/><path class="cn" d="M0 54.56V139.3"/><path class="cl" d="M0 58.21V139.3"/><path class="cn" d="M0 59.64V139.3"/><path class="ca" d="M0 61.41V139.3"/><path class="cl" d="M0 64.4V139.3"/><path class="ca" d="M0 66.04V139.3"/><path class="cm" d="M0 67.83V139.3"/><path class="ck" d="M0 72.83V139.3"/><path class="ch" d="M0 74.11V139.3"/><path class="ca" d="M0 75.35V139.3"/><path class="ch" d="M0 76.93V139.3"/><path class="cm" d="M0 78.17V139.3"/><path class="cl" d="M0 82.36V139.3"/><path class="ck" d="M0 83.8V139.3"/><path class="ca" d="M0 85.11V139.3"/><path class="cl" d="M0 87.52V139.3"/><path class="ca" d="M0 89.17V139.3"/><path class="ch" d="M0 90.04V139.3"/><path class="ca" d="M0 91.28V139.3"/><path class="cn" d="M0 92.62V139.3"/><path class="cb" d="M0 94.15V139.3"/><path class="ca" d="M0 95.39V139.3"/><path class="ch" d="M0 96.46V139.3"/><path class="ca" d="M0 97.7V139.3"/><path class="ch" d="M0 100.06V139.3"/><path class="cn" d="M0 101.3V139.3"/><path class="cl" d="M0 107.56V139.3"/><path class="ca" d="M0 109.2V139.3"/><path class="ch" d="M0 110.85V139.3"/><path class="ca" d="M0 112.09V139.3"/><path class="cj" d="M0 114.73V139.3"/><path class="ca" d="M0 116.17V139.3"/><path class="cm" d="M0 119.23V139.3"/><path class="ca" d="M0 120.55V139.3"/><path class="cm" d="M0 123.41V139.3"/><path class="cn" d="M0 125.87V139.3"/><path class="cj" d="M0 128.4V139.3"/><path class="ca" d="M0 130.25V139.3"/><path class="cl" d="M0 131.46V139.3"/><path class="ca" d="M0 133.1V139.3"/><path class="cl" d="M0 134.77V139.3"/><path class="ck" d="M0 136.21V139.3"/><path class="ca" d="M0 138.2V139.3"/>
</g>
<g transform="translate(280.5 190.84)" stroke-width="43">
<path class="cp" d="M0 0V139.3"/><path class="ch" d="M0 3.81V139.3"/><path class="ct" d="M0 5.61V139.3"/><path class="cd" d="M0 7.15V139.3"/><path class="cp" d="M0 8.18V139.3"/><path class="ch" d="M0 12.03V139.3"/><path class="cd" d="M0 14.09V139.3"/><path class="cb" d="M0 16.61V139.3"/><path class="ca" d="M0 18.25V139.3"/><path class="cp" d="M0 22.06V139.3"/><path class="cd" d="M0 26.17V139.3"/><path class="ch" d="M0 27.32V139.3"/><path class="ca" d="M0 28.35V139.3"/><path class="cj" d="M0 30.28V139.3"/><path class="cb" d="M0 31.56V139.3"/><path class="ca" d="M0 33.36V139.3"/><path class="cl" d="M0 34.52V139.3"/><path class="cn" d="M0 35.54V139.3"/><path class="cm" d="M0 38.08V139.3"/><path class="cl" d="M0 40.25V139.3"/><path class="ca" d="M0 41.89V139.3"/><path class="cj" d="M0 43.25V139.3"/><path class="ca" d="M0 44.28V139.3"/><path class="cj" d="M0 46.36V139.3"/><path class="cn" d="M0 47.6V139.3"/><path class="ca" d="M0 49.2V139.3"/><path class="cn" d="M0 53.98V139.3"/><path class="cl" d="M0 58.21V139.3"/><path class="ca" d="M0 59.64V139.3"/><path class="ck" d="M0 61.27V139.3"/><path class="ca" d="M0 63.36V139.3"/><path class="cl" d="M0 64.4V139.3"/><path class="ca" d="M0 66.04V139.3"/><path class="cj" d="M0 67.68V139.3"/><path class="ca" d="M0 68.92V139.3"/><path class="cj" d="M0 71.05V139.3"/><path class="ca" d="M0 72.49V139.3"/><path class="ch" d="M0 74.11V139.3"/><path class="ca" d="M0 75.35V139.3"/><path class="cb" d="M0 76.96V139.3"/><path class="ca" d="M0 78.4V139.3"/><path class="cm" d="M0 81.12V139.3"/><path class="cl" d="M0 82.36V139.3"/><path class="cd" d="M0 83.8V139.3"/><path class="ca" d="M0 89.37V139.3"/><path class="ch" d="M0 90.04V139.3"/><path class="ck" d="M0 91.28V139.3"/><path class="cm" d="M0 93.13V139.3"/><path class="cb" d="M0 94.15V139.3"/><path class="ca" d="M0 95.39V139.3"/><path class="ch" d="M0 96.46V139.3"/><path class="ca" d="M0 97.7V139.3"/><path class="ch" d="M0 100.06V139.3"/><path class="ca" d="M0 101.3V139.3"/><path class="cj" d="M0 103.66V139.3"/><path class="ca" d="M0 104.89V139.3"/><path class="cl" d="M0 107.56V139.3"/><path class="ca" d="M0 109.2V139.3"/><path class="ch" d="M0 110.85V139.3"/><path class="ca" d="M0 112.09V139.3"/><path class="cj" d="M0 114.73V139.3"/><path class="ca" d="M0 116.17V139.3"/><path class="cj" d="M0 118.51V139.3"/><path class="ca" d="M0 119.33V139.3"/><path class="ck" d="M0 121.09V139.3"/><path class="cj" d="M0 122.39V139.3"/><path class="ca" d="M0 123.42V139.3"/><path class="cj" d="M0 128.4V139.3"/><path class="ca" d="M0 130.25V139.3"/><path class="cl" d="M0 131.43V139.3"/><path class="ca" d="M0 132.87V139.3"/><path class="ch" d="M0 135.24V139.3"/><path class="ca" d="M0 136.26V139.3"/>
</g>
<g transform="translate(324 190.84)" stroke-width="44">
<path class="cp" d="M0 0V139.3"/><path class="cs" d="M0 3.81V139.3"/><path class="cr" d="M0 5.61V139.3"/><path class="cd" d="M0 7.15V139.3"/><path class="cp" d="M0 8.18V139.3"/><path class="ch" d="M0 12.03V139.3"/><path class="cd" d="M0 14.09V139.3"/><path class="cj" d="M0 16.61V139.3"/><path class="ca" d="M0 18.25V139.3"/><path class="cj" d="M0 20.15V139.3"/><path class="ca" d="M0 21.39V139.3"/><path class="cp" d="M0 22.06V139.3"/><path class="cd" d="M0 26.17V139.3"/><path class="ch" d="M0 27.32V139.3"/><path class="ca" d="M0 28.35V139.3"/><path class="cn" d="M0 30.89V139.3"/><path class="ca" d="M0 32.39V139.3"/><path class="cl" d="M0 34.52V139.3"/><path class="cm" d="M0 35.54V139.3"/><path class="cl" d="M0 40.25V139.3"/><path class="ca" d="M0 41.89V139.3"/><path class="cj" d="M0 43.3V139.3"/><path class="ca" d="M0 44.74V139.3"/><path class="ck" d="M0 46.48V139.3"/><path class="ca" d="M0 48.14V139.3"/><path class="cm" d="M0 51.82V139.3"/><path class="cj" d="M0 53.04V139.3"/><path class="ca" d="M0 54.28V139.3"/><path class="ck" d="M0 57.05V139.3"/><path class="cl" d="M0 58.21V139.3"/><path class="cm" d="M0 59.64V139.3"/><path class="cl" d="M0 64.4V139.3"/><path class="ca" d="M0 66.04V139.3"/><path class="cm" d="M0 67.99V139.3"/><path class="ca" d="M0 69.68V139.3"/><path class="cm" d="M0 71.05V139.3"/><path class="ch" d="M0 74.11V139.3"/><path class="cm" d="M0 75.35V139.3"/><path class="ca" d="M0 79.07V139.3"/><path class="ck" d="M0 80.52V139.3"/><path class="cl" d="M0 82.36V139.3"/><path class="cn" d="M0 83.8V139.3"/><path class="cl" d="M0 87.52V139.3"/><path class="ca" d="M0 89.17V139.3"/><path class="ch" d="M0 90.04V139.3"/><path class="ca" d="M0 91.28V139.3"/><path class="cb" d="M0 94.15V139.3"/><path class="ca" d="M0 95.39V139.3"/><path class="ch" d="M0 96.46V139.3"/><path class="ca" d="M0 97.7V139.3"/><path class="ch" d="M0 100.06V139.3"/><path class="ca" d="M0 101.3V139.3"/><path class="cj" d="M0 103.66V139.3"/><path class="ca" d="M0 104.89V139.3"/><path class="cl" d="M0 107.56V139.3"/><path class="ca" d="M0 109.2V139.3"/><path class="ch" d="M0 110.85V139.3"/><path class="ca" d="M0 112.09V139.3"/><path class="cj" d="M0 114.68V139.3"/><path class="cn" d="M0 115.71V139.3"/><path class="cm" d="M0 120.87V139.3"/><path class="ca" d="M0 124.05V139.3"/><path class="ck" d="M0 126.14V139.3"/><path class="cj" d="M0 128.38V139.3"/><path class="ca" d="M0 130.02V139.3"/><path class="cl" d="M0 131.46V139.3"/><path class="ca" d="M0 133.1V139.3"/><path class="ch" d="M0 134.23V139.3"/><path class="cn" d="M0 135.47V139.3"/>
</g>
<g transform="translate(367.5 190.84)" stroke-width="43">
<path class="cp" d="M0 0V139.3"/><path class="cc" d="M0 3.81V139.3"/><path class="ct" d="M0 5.61V139.3"/><path class="cd" d="M0 6.9V139.3"/><path class="cp" d="M0 8.18V139.3"/><path class="ch" d="M0 12.03V139.3"/><path class="cd" d="M0 14.09V139.3"/><path class="cj" d="M0 16.61V139.3"/><path class="ca" d="M0 18.25V139.3"/><path class="cj" d="M0 20.15V139.3"/><path class="ca" d="M0 21.39V139.3"/><path class="cp" d="M0 22.06V139.3"/><path class="cd" d="M0 26.17V139.3"/><path class="ch" d="M0 27.32V139.3"/><path class="cm" d="M0 28.35V139.3"/><path class="cn" d="M0 30.44V139.3"/><path class="ca" d="M0 32.97V139.3"/><path class="cl" d="M0 34.52V139.3"/><path class="cn" d="M0 35.54V139.3"/><path class="cl" d="M0 40.25V139.3"/><path class="ca" d="M0 41.89V139.3"/><path class="cj" d="M0 43.25V139.3"/><path class="ca" d="M0 44.28V139.3"/><path class="cm" d="M0 45.8V139.3"/><path class="ca" d="M0 47.87V139.3"/><path class="cn" d="M0 51.59V139.3"/><path class="ck" d="M0 53.94V139.3"/><path class="cl" d="M0 58.21V139.3"/><path class="cm" d="M0 59.64V139.3"/><path class="ck" d="M0 61.27V139.3"/><path class="ca" d="M0 63.11V139.3"/><path class="cl" d="M0 64.4V139.3"/><path class="cn" d="M0 66.04V139.3"/><path class="ca" d="M0 67.55V139.3"/><path class="cn" d="M0 72.16V139.3"/><path class="cb" d="M0 74.11V139.3"/><path class="ca" d="M0 75.35V139.3"/><path class="ch" d="M0 76.96V139.3"/><path class="ck" d="M0 78.4V139.3"/><path class="cn" d="M0 80.3V139.3"/><path class="cl" d="M0 82.36V139.3"/><path class="ck" d="M0 83.8V139.3"/><path class="ca" d="M0 85.26V139.3"/><path class="cl" d="M0 87.52V139.3"/><path class="ca" d="M0 89.17V139.3"/><path class="ch" d="M0 90.04V139.3"/><path class="ca" d="M0 91.28V139.3"/><path class="cb" d="M0 94.15V139.3"/><path class="ca" d="M0 95.39V139.3"/><path class="ch" d="M0 96.46V139.3"/><path class="ca" d="M0 97.7V139.3"/><path class="ch" d="M0 100.06V139.3"/><path class="ck" d="M0 101.3V139.3"/><path class="cn" d="M0 103.78V139.3"/><path class="cl" d="M0 107.56V139.3"/><path class="ca" d="M0 109.2V139.3"/><path class="ch" d="M0 110.85V139.3"/><path class="ca" d="M0 112.09V139.3"/><path class="cj" d="M0 114.7V139.3"/><path class="ck" d="M0 115.94V139.3"/><path class="cm" d="M0 117.32V139.3"/><path class="ca" d="M0 118.91V139.3"/><path class="ck" d="M0 123.59V139.3"/><path class="ca" d="M0 124.97V139.3"/><path class="cj" d="M0 128.4V139.3"/><path class="ca" d="M0 130.25V139.3"/><path class="cl" d="M0 131.46V139.3"/><path class="ca" d="M0 133.1V139.3"/><path class="ch" d="M0 134.23V139.3"/><path class="cm" d="M0 135.47V139.3"/><path class="ck" d="M0 138.04V139.3"/>
</g>
<g transform="translate(411 190.84)" stroke-width="44">
<path class="cb" d="M0 0V139.3"/><path class="ch" d="M0 4.58V139.3"/><path class="cd" d="M0 6.38V139.3"/><path class="cp" d="M0 8.18V139.3"/><path class="ch" d="M0 12.03V139.3"/><path class="cd" d="M0 14.09V139.3"/><path class="cl" d="M0 17.12V139.3"/><path class="ca" d="M0 18.77V139.3"/><path class="cj" d="M0 20.15V139.3"/><path class="ca" d="M0 21.39V139.3"/><path class="cp" d="M0 22.06V139.3"/><path class="cd" d="M0 26.17V139.3"/><path class="ch" d="M0 27.19V139.3"/><path class="cj" d="M0 28.48V139.3"/><path class="cb" d="M0 31.82V139.3"/><path class="ca" d="M0 33.36V139.3"/><path class="cl" d="M0 34.52V139.3"/><path class="cm" d="M0 35.54V139.3"/><path class="cl" d="M0 40.25V139.3"/><path class="ca" d="M0 41.89V139.3"/><path class="cj" d="M0 43.3V139.3"/><path class="ca" d="M0 44.74V139.3"/><path class="cj" d="M0 46.36V139.3"/><path class="cn" d="M0 47.6V139.3"/><path class="cm" d="M0 50V139.3"/><path class="cn" d="M0 52.04V139.3"/><path class="cj" d="M0 53.07V139.3"/><path class="ca" d="M0 54.51V139.3"/><path class="cn" d="M0 56.15V139.3"/><path class="cl" d="M0 58.21V139.3"/><path class="cn" d="M0 59.64V139.3"/><path class="cl" d="M0 64.19V139.3"/><path class="cj" d="M0 66.25V139.3"/><path class="cn" d="M0 72.67V139.3"/><path class="ca" d="M0 75.56V139.3"/><path class="ch" d="M0 76.96V139.3"/><path class="cn" d="M0 78.4V139.3"/><path class="cl" d="M0 82.36V139.3"/><path class="cd" d="M0 83.8V139.3"/><path class="ca" d="M0 89.37V139.3"/><path class="ch" d="M0 90.04V139.3"/><path class="ca" d="M0 91.28V139.3"/><path class="cb" d="M0 94.15V139.3"/><path class="ca" d="M0 95.39V139.3"/><path class="ch" d="M0 96.46V139.3"/><path class="ca" d="M0 97.7V139.3"/><path class="ch" d="M0 99.91V139.3"/><path class="cj" d="M0 101.45V139.3"/><path class="ca" d="M0 104.79V139.3"/><path class="cm" d="M0 106.17V139.3"/><path class="cl" d="M0 107.56V139.3"/><path class="ca" d="M0 109.2V139.3"/><path class="ch" d="M0 110.85V139.3"/><path class="ck" d="M0 112.09V139.3"/><path class="cj" d="M0 114.7V139.3"/><path class="ca" d="M0 115.94V139.3"/><path class="cj" d="M0 118.3V139.3"/><path class="ca" d="M0 119.54V139.3"/><path class="cj" d="M0 121.67V139.3"/><path class="ck" d="M0 123.11V139.3"/><path class="ca" d="M0 124.56V139.3"/><path class="cl" d="M0 128.38V139.3"/><path class="ca" d="M0 130.02V139.3"/><path class="cb" d="M0 131.46V139.3"/><path class="ca" d="M0 133.1V139.3"/><path class="ch" d="M0 135.26V139.3"/><path class="ca" d="M0 136.5V139.3"/>
</g>
<g transform="translate(454.5 190.84)" stroke-width="43">
<path class="cp" d="M0 0V139.3"/><path class="ch" d="M0 4.58V139.3"/><path class="ct" d="M0 6.13V139.3"/><path class="cd" d="M0 7.15V139.3"/><path class="cp" d="M0 8.18V139.3"/><path class="ch" d="M0 12.29V139.3"/><path class="cd" d="M0 14.09V139.3"/><path class="cj" d="M0 17.1V139.3"/><path class="cn" d="M0 18.53V139.3"/><path class="ca" d="M0 20.2V139.3"/><path class="cp" d="M0 22.06V139.3"/><path class="cd" d="M0 26.17V139.3"/><path class="ch" d="M0 27.32V139.3"/><path class="ca" d="M0 28.35V139.3"/><path class="cj" d="M0 31.2V139.3"/><path class="ca" d="M0 32.44V139.3"/><path class="cl" d="M0 34.52V139.3"/><path class="cm" d="M0 35.54V139.3"/><path class="ch" d="M0 40.25V139.3"/><path class="ck" d="M0 41.89V139.3"/><path class="cn" d="M0 43.5V139.3"/><path class="ck" d="M0 45.32V139.3"/><path class="cn" d="M0 46.89V139.3"/><path class="cm" d="M0 50.02V139.3"/><path class="ca" d="M0 51.72V139.3"/><path class="cn" d="M0 56.1V139.3"/><path class="cl" d="M0 58.21V139.3"/><path class="cm" d="M0 59.64V139.3"/><path class="cn" d="M0 61.25V139.3"/><path class="cl" d="M0 64.4V139.3"/><path class="cd" d="M0 66.04V139.3"/><path class="ca" d="M0 72.67V139.3"/><path class="cb" d="M0 74.11V139.3"/><path class="ca" d="M0 75.35V139.3"/><path class="cb" d="M0 76.96V139.3"/><path class="cm" d="M0 78.4V139.3"/><path class="ck" d="M0 80.02V139.3"/><path class="cl" d="M0 82.36V139.3"/><path class="cm" d="M0 83.8V139.3"/><path class="cn" d="M0 85.19V139.3"/><path class="ck" d="M0 88.33V139.3"/><path class="ch" d="M0 90.04V139.3"/><path class="ca" d="M0 91.28V139.3"/><path class="cb" d="M0 94.15V139.3"/><path class="ca" d="M0 95.39V139.3"/><path class="cb" d="M0 96.46V139.3"/><path class="ca" d="M0 97.7V139.3"/><path class="ch" d="M0 100.06V139.3"/><path class="cd" d="M0 101.3V139.3"/><path class="ca" d="M0 106.07V139.3"/><path class="cl" d="M0 107.56V139.3"/><path class="ca" d="M0 109.2V139.3"/><path class="cb" d="M0 110.85V139.3"/><path class="ck" d="M0 112.09V139.3"/><path class="cj" d="M0 114.7V139.3"/><path class="cn" d="M0 115.94V139.3"/><path class="cm" d="M0 118.43V139.3"/><path class="cj" d="M0 122.13V139.3"/><path class="cm" d="M0 123.16V139.3"/><path class="ca" d="M0 127.36V139.3"/><path class="cj" d="M0 128.4V139.3"/><path class="ca" d="M0 130.25V139.3"/><path class="cl" d="M0 131.46V139.3"/><path class="ca" d="M0 133.1V139.3"/><path class="ch" d="M0 134.21V139.3"/><path class="ca" d="M0 135.23V139.3"/>
</g>
<g transform="translate(498 190.84)" stroke-width="44">
<path class="cs" d="M0 0V139.3"/><path class="cf" d="M0 2.78V139.3"/><path class="cr" d="M0 6.38V139.3"/><path class="cp" d="M0 7.41V139.3"/><path class="cf" d="M0 8.69V139.3"/><path class="cp" d="M0 9.98V139.3"/><path class="cr" d="M0 12.03V139.3"/><path class="cd" d="M0 13.58V139.3"/><path class="ch" d="M0 14.6V139.3"/><path class="cw" d="M0 16.92V139.3"/><path class="cj" d="M0 18.97V139.3"/><path class="cc" d="M0 20.26V139.3"/><path class="cp" d="M0 21.8V139.3"/><path class="cd" d="M0 26.17V139.3"/><path class="ch" d="M0 27.32V139.3"/><path class="ck" d="M0 28.35V139.3"/><path class="ce" d="M0 31.28V139.3"/><path class="cd" d="M0 33.13V139.3"/><path class="ch" d="M0 34.59V139.3"/><path class="cm" d="M0 36.23V139.3"/><path class="cw" d="M0 40.25V139.3"/><path class="ca" d="M0 41.89V139.3"/><path class="cw" d="M0 43.3V139.3"/><path class="ca" d="M0 44.74V139.3"/><path class="cc" d="M0 45.87V139.3"/><path class="ca" d="M0 47.31V139.3"/><path class="cm" d="M0 50V139.3"/><path class="cn" d="M0 51.72V139.3"/><path class="cm" d="M0 54.19V139.3"/><path class="ca" d="M0 56.29V139.3"/><path class="cl" d="M0 58.03V139.3"/><path class="cj" d="M0 59.82V139.3"/><path class="cc" d="M0 60.34V139.3"/><path class="ca" d="M0 61.88V139.3"/><path class="cl" d="M0 64.4V139.3"/><path class="ck" d="M0 66.04V139.3"/><path class="ca" d="M0 68.27V139.3"/><path class="cq" d="M0 70.08V139.3"/><path class="ca" d="M0 71.93V139.3"/><path class="cg" d="M0 74.11V139.3"/><path class="ck" d="M0 75.35V139.3"/><path class="ca" d="M0 76.75V139.3"/><path class="ck" d="M0 78.72V139.3"/><path class="cl" d="M0 82.36V139.3"/><path class="ca" d="M0 83.8V139.3"/><path class="ck" d="M0 85.67V139.3"/><path class="cg" d="M0 87.52V139.3"/><path class="ca" d="M0 89.17V139.3"/><path class="ct" d="M0 90.09V139.3"/><path class="ca" d="M0 91.73V139.3"/><path class="cb" d="M0 94.15V139.3"/><path class="ca" d="M0 95.39V139.3"/><path class="cw" d="M0 96.2V139.3"/><path class="ca" d="M0 97.44V139.3"/><path class="ch" d="M0 100.06V139.3"/><path class="ca" d="M0 101.3V139.3"/><path class="cw" d="M0 102.14V139.3"/><path class="ca" d="M0 103.58V139.3"/><path class="cn" d="M0 105.14V139.3"/><path class="cl" d="M0 107.56V139.3"/><path class="ca" d="M0 109.2V139.3"/><path class="cm" d="M0 110.69V139.3"/><path class="ct" d="M0 114.7V139.3"/><path class="ca" d="M0 115.94V139.3"/><path class="ck" d="M0 119.07V139.3"/><path class="ch" d="M0 122.23V139.3"/><path class="ck" d="M0 124.09V139.3"/><path class="cn" d="M0 127.08V139.3"/><path class="co" d="M0 128.4V139.3"/><path class="ca" d="M0 130.25V139.3"/><path class="ce" d="M0 131.21V139.3"/><path class="ca" d="M0 132.84V139.3"/><path class="ct" d="M0 134.82V139.3"/><path class="ck" d="M0 136.68V139.3"/>
</g>
<g transform="translate(541.5 190.84)" stroke-width="43">
<path class="ca" d="M0 0V139.3"/><path class="cl" d="M0 1.76V139.3"/><path class="cg" d="M0 3.04V139.3"/><path class="ca" d="M0 4.33V139.3"/><path class="cg" d="M0 5.23V139.3"/><path class="ca" d="M0 6.25V139.3"/><path class="cc" d="M0 8.41V139.3"/><path class="ca" d="M0 10.26V139.3"/><path class="cc" d="M0 11.39V139.3"/><path class="ca" d="M0 12.42V139.3"/><path class="cj" d="M0 13.83V139.3"/><path class="cd" d="M0 18.71V139.3"/><path class="ca" d="M0 21.28V139.3"/>
</g>
<g transform="translate(584.5 190.84)" stroke-width="43">
<path class="cf" d="M0 0V139.3"/><path class="cu" d="M0 2.53V139.3"/><path class="cq" d="M0 5.1V139.3"/><path class="cb" d="M0 5.87V139.3"/><path class="ca" d="M0 8.18V139.3"/><path class="ch" d="M0 10.08V139.3"/><path class="ca" d="M0 10.91V139.3"/><path class="cc" d="M0 12.03V139.3"/><path class="cj" d="M0 14.35V139.3"/><path class="cd" d="M0 18.71V139.3"/><path class="ca" d="M0 20V139.3"/>
</g>
<rect x="85.15" y="190.84" width="520.35" height="139.3" fill="none" stroke="#000" stroke-width="1.2"/>
<text class="d" transform="translate(60.9 256.99) rotate(-90) scale(.985 1)" font-size="15" text-anchor="middle">Promotor</text>
<text class="s" transform="translate(76.8 260.49) rotate(-90)" font-size="14.7" text-anchor="middle">n=598</text>
<rect x="637.7" y="191.14" width="7.2" height="138.6" fill="url(#cw)" stroke="#000" stroke-width="1"/>
<path d="M644.9 191.14H650" stroke="#000" stroke-width="1.25"/>
<text class="s" x="655.6" y="196.04" font-size="14.2">1.00</text>
<path d="M644.9 225.79H650" stroke="#000" stroke-width="1.25"/>
<text class="s" x="655.6" y="230.69" font-size="14.2">0.75</text>
<path d="M644.9 260.44H650" stroke="#000" stroke-width="1.25"/>
<text class="s" x="655.6" y="265.34" font-size="14.2">0.50</text>
<path d="M644.9 295.09H650" stroke="#000" stroke-width="1.25"/>
<text class="s" x="655.6" y="299.99" font-size="14.2">0.25</text>
<path d="M644.9 329.74H650" stroke="#000" stroke-width="1.25"/>
<text class="s" x="655.6" y="334.64" font-size="14.2">0.00</text>
</g>
<g>
<g transform="translate(106.5 357.68)" stroke-width="43">
<path class="ce" d="M0 0V139.3"/><path class="cp" d="M0 3.2V139.3"/><path class="cf" d="M0 10.58V139.3"/><path class="cp" d="M0 12.01V139.3"/><path class="ce" d="M0 13.99V139.3"/><path class="ch" d="M0 15.28V139.3"/><path class="cf" d="M0 17.08V139.3"/><path class="cw" d="M0 19.39V139.3"/><path class="cs" d="M0 21.19V139.3"/><path class="cp" d="M0 22.22V139.3"/><path class="cw" d="M0 24.71V139.3"/><path class="cp" d="M0 26.15V139.3"/><path class="cw" d="M0 27.87V139.3"/><path class="ce" d="M0 29.67V139.3"/><path class="cp" d="M0 31.21V139.3"/><path class="cc" d="M0 32.11V139.3"/><path class="cp" d="M0 33.13V139.3"/><path class="cf" d="M0 35.32V139.3"/><path class="cq" d="M0 39.17V139.3"/><path class="cf" d="M0 40.2V139.3"/><path class="ca" d="M0 41.49V139.3"/><path class="cp" d="M0 42.77V139.3"/><path class="cw" d="M0 44.31V139.3"/><path class="cp" d="M0 47.91V139.3"/><path class="ch" d="M0 48.68V139.3"/><path class="cf" d="M0 49.71V139.3"/><path class="cp" d="M0 52.02V139.3"/><path class="ce" d="M0 53.95V139.3"/><path class="cp" d="M0 54.97V139.3"/><path class="cf" d="M0 57.36V139.3"/><path class="cp" d="M0 59.01V139.3"/><path class="cf" d="M0 60.24V139.3"/><path class="cg" d="M0 62.3V139.3"/><path class="cw" d="M0 63.07V139.3"/><path class="cp" d="M0 64.61V139.3"/><path class="cw" d="M0 66.36V139.3"/><path class="cp" d="M0 68V139.3"/><path class="cf" d="M0 74.33V139.3"/><path class="cp" d="M0 75.97V139.3"/><path class="ce" d="M0 77.2V139.3"/><path class="ct" d="M0 78.74V139.3"/><path class="cq" d="M0 81.05V139.3"/><path class="cp" d="M0 82.34V139.3"/><path class="cw" d="M0 84.29V139.3"/><path class="cp" d="M0 85.53V139.3"/><path class="cc" d="M0 86.96V139.3"/><path class="cf" d="M0 88.5V139.3"/><path class="cp" d="M0 91.59V139.3"/><path class="ca" d="M0 92.87V139.3"/><path class="cf" d="M0 94.93V139.3"/><path class="ci" d="M0 97.24V139.3"/><path class="ce" d="M0 98.53V139.3"/><path class="cp" d="M0 99.81V139.3"/><path class="ca" d="M0 100.99V139.3"/><path class="cp" d="M0 102.23V139.3"/><path class="ce" d="M0 105.36V139.3"/><path class="cp" d="M0 106.6V139.3"/><path class="cf" d="M0 108.55V139.3"/><path class="cp" d="M0 110.6V139.3"/><path class="cd" d="M0 112.14V139.3"/><path class="cw" d="M0 113.68V139.3"/><path class="cp" d="M0 117.03V139.3"/><path class="cd" d="M0 118.05V139.3"/><path class="cf" d="M0 119.08V139.3"/><path class="cp" d="M0 121.39V139.3"/><path class="ce" d="M0 123.09V139.3"/><path class="cp" d="M0 124.33V139.3"/><path class="cj" d="M0 125.5V139.3"/><path class="ce" d="M0 126.53V139.3"/><path class="cp" d="M0 128.59V139.3"/><path class="ca" d="M0 130.64V139.3"/><path class="cw" d="M0 132.96V139.3"/><path class="cf" d="M0 137.07V139.3"/>
</g>
<g transform="translate(150 357.68)" stroke-width="44">
<path class="cs" d="M0 0V139.3"/><path class="cp" d="M0 1.66V139.3"/><path class="cd" d="M0 3.87V139.3"/><path class="cp" d="M0 5.11V139.3"/><path class="cf" d="M0 11.04V139.3"/><path class="cp" d="M0 12.06V139.3"/><path class="cd" d="M0 15.17V139.3"/><path class="cp" d="M0 16.41V139.3"/><path class="cw" d="M0 17.48V139.3"/><path class="cp" d="M0 18.72V139.3"/><path class="cc" d="M0 28.02V139.3"/><path class="cp" d="M0 29.26V139.3"/><path class="cq" d="M0 32.11V139.3"/><path class="cp" d="M0 33.13V139.3"/><path class="cd" d="M0 35.06V139.3"/><path class="ce" d="M0 36.35V139.3"/><path class="cq" d="M0 38.15V139.3"/><path class="ce" d="M0 39.17V139.3"/><path class="cp" d="M0 40.71V139.3"/><path class="cw" d="M0 44.49V139.3"/><path class="cp" d="M0 45.93V139.3"/><path class="ce" d="M0 53.97V139.3"/><path class="cp" d="M0 55.21V139.3"/><path class="cf" d="M0 57.16V139.3"/><path class="cd" d="M0 58.44V139.3"/><path class="cp" d="M0 59.47V139.3"/><path class="cr" d="M0 60.6V139.3"/><path class="cp" d="M0 61.43V139.3"/><path class="cc" d="M0 76.94V139.3"/><path class="cu" d="M0 78.48V139.3"/><path class="ct" d="M0 80.8V139.3"/><path class="cp" d="M0 82.34V139.3"/><path class="cw" d="M0 90.51V139.3"/><path class="cp" d="M0 92.15V139.3"/><path class="cd" d="M0 93.8V139.3"/><path class="cp" d="M0 95.03V139.3"/><path class="cw" d="M0 97.24V139.3"/><path class="cc" d="M0 98.53V139.3"/><path class="cp" d="M0 99.81V139.3"/><path class="cr" d="M0 105.36V139.3"/><path class="cp" d="M0 106.6V139.3"/><path class="cd" d="M0 112.32V139.3"/><path class="cp" d="M0 113.76V139.3"/><path class="cd" d="M0 118.31V139.3"/><path class="cv" d="M0 119.08V139.3"/><path class="cp" d="M0 120.62V139.3"/><path class="cd" d="M0 125.25V139.3"/><path class="cs" d="M0 126.53V139.3"/><path class="cd" d="M0 127.3V139.3"/><path class="cp" d="M0 128.59V139.3"/><path class="cr" d="M0 129.61V139.3"/><path class="cx" d="M0 130.64V139.3"/><path class="cr" d="M0 136.55V139.3"/>
</g>
<g transform="translate(193.5 357.68)" stroke-width="43">
<path class="cs" d="M0 0V139.3"/><path class="cp" d="M0 1.66V139.3"/><path class="ce" d="M0 17.23V139.3"/><path class="cp" d="M0 18.47V139.3"/><path class="ct" d="M0 32.11V139.3"/><path class="cp" d="M0 33.13V139.3"/><path class="cu" d="M0 34.29V139.3"/><path class="cr" d="M0 36.35V139.3"/><path class="cs" d="M0 37.63V139.3"/><path class="ce" d="M0 38.66V139.3"/><path class="ca" d="M0 39.43V139.3"/><path class="cp" d="M0 41.49V139.3"/><path class="ct" d="M0 44.31V139.3"/><path class="cs" d="M0 46.37V139.3"/><path class="cp" d="M0 47.91V139.3"/><path class="cq" d="M0 53.95V139.3"/><path class="cp" d="M0 54.97V139.3"/><path class="cu" d="M0 57.13V139.3"/><path class="cp" d="M0 58.98V139.3"/><path class="ct" d="M0 60.37V139.3"/><path class="cp" d="M0 61.4V139.3"/><path class="ce" d="M0 74.33V139.3"/><path class="cp" d="M0 75.97V139.3"/><path class="cc" d="M0 77.2V139.3"/><path class="ct" d="M0 78.48V139.3"/><path class="cp" d="M0 79.51V139.3"/><path class="ch" d="M0 80.75V139.3"/><path class="cp" d="M0 82.39V139.3"/><path class="cu" d="M0 87.48V139.3"/><path class="cr" d="M0 88.5V139.3"/><path class="cp" d="M0 91.59V139.3"/><path class="cd" d="M0 93.08V139.3"/><path class="cp" d="M0 94.72V139.3"/><path class="cc" d="M0 97.24V139.3"/><path class="cw" d="M0 98.27V139.3"/><path class="cd" d="M0 99.04V139.3"/><path class="cp" d="M0 100.07V139.3"/><path class="cr" d="M0 105.34V139.3"/><path class="cp" d="M0 106.36V139.3"/><path class="cd" d="M0 112.32V139.3"/><path class="cp" d="M0 113.76V139.3"/><path class="cj" d="M0 118.31V139.3"/><path class="cq" d="M0 119.34V139.3"/><path class="cp" d="M0 120.62V139.3"/><path class="cd" d="M0 123.09V139.3"/><path class="cp" d="M0 124.33V139.3"/><path class="cj" d="M0 125.5V139.3"/><path class="ch" d="M0 126.53V139.3"/><path class="cp" d="M0 128.59V139.3"/><path class="cj" d="M0 130.13V139.3"/><path class="cu" d="M0 131.41V139.3"/><path class="ch" d="M0 134.75V139.3"/><path class="cp" d="M0 137.07V139.3"/>
</g>
<g transform="translate(237 357.68)" stroke-width="44">
<path class="cs" d="M0 0V139.3"/><path class="cp" d="M0 1.4V139.3"/><path class="cc" d="M0 3.87V139.3"/><path class="cp" d="M0 5.11V139.3"/><path class="cf" d="M0 11.04V139.3"/><path class="cp" d="M0 12.06V139.3"/><path class="cq" d="M0 18.26V139.3"/><path class="cp" d="M0 19.49V139.3"/><path class="cr" d="M0 32.11V139.3"/><path class="cp" d="M0 33.13V139.3"/><path class="cd" d="M0 35.06V139.3"/><path class="ce" d="M0 36.6V139.3"/><path class="cp" d="M0 38.66V139.3"/><path class="cj" d="M0 40.12V139.3"/><path class="cp" d="M0 41.56V139.3"/><path class="ch" d="M0 44.31V139.3"/><path class="cw" d="M0 46.37V139.3"/><path class="cp" d="M0 48.17V139.3"/><path class="ct" d="M0 53.95V139.3"/><path class="cp" d="M0 54.97V139.3"/><path class="ct" d="M0 57.16V139.3"/><path class="cc" d="M0 58.19V139.3"/><path class="cp" d="M0 59.21V139.3"/><path class="ct" d="M0 60.37V139.3"/><path class="cp" d="M0 61.4V139.3"/><path class="cf" d="M0 74.01V139.3"/><path class="cp" d="M0 75.25V139.3"/><path class="ct" d="M0 77.35V139.3"/><path class="cp" d="M0 78.59V139.3"/><path class="ct" d="M0 80.54V139.3"/><path class="cc" d="M0 81.31V139.3"/><path class="cp" d="M0 82.34V139.3"/><path class="ct" d="M0 90.51V139.3"/><path class="cp" d="M0 92.15V139.3"/><path class="cd" d="M0 92.87V139.3"/><path class="ct" d="M0 95.19V139.3"/><path class="cp" d="M0 96.73V139.3"/><path class="cd" d="M0 97.24V139.3"/><path class="cc" d="M0 98.53V139.3"/><path class="cp" d="M0 100.07V139.3"/><path class="cu" d="M0 105.36V139.3"/><path class="cp" d="M0 106.6V139.3"/><path class="cd" d="M0 112.32V139.3"/><path class="cp" d="M0 113.76V139.3"/><path class="cd" d="M0 118.31V139.3"/><path class="cw" d="M0 119.59V139.3"/><path class="cj" d="M0 120.37V139.3"/><path class="cp" d="M0 121.14V139.3"/><path class="cd" d="M0 123.06V139.3"/><path class="cp" d="M0 124.09V139.3"/><path class="cd" d="M0 125.25V139.3"/><path class="ct" d="M0 126.53V139.3"/><path class="ci" d="M0 128.07V139.3"/><path class="cc" d="M0 129.1V139.3"/><path class="cx" d="M0 130.64V139.3"/><path class="ch" d="M0 134.75V139.3"/><path class="cf" d="M0 136.81V139.3"/>
</g>
<g transform="translate(280.5 357.68)" stroke-width="43">
<path class="cs" d="M0 0V139.3"/><path class="cp" d="M0 1.4V139.3"/><path class="cf" d="M0 11.04V139.3"/><path class="cp" d="M0 12.06V139.3"/><path class="cd" d="M0 15.15V139.3"/><path class="cp" d="M0 16.18V139.3"/><path class="cr" d="M0 17.54V139.3"/><path class="cp" d="M0 19.18V139.3"/><path class="cu" d="M0 28.02V139.3"/><path class="cp" d="M0 29.26V139.3"/><path class="ct" d="M0 32.11V139.3"/><path class="cp" d="M0 33.13V139.3"/><path class="cd" d="M0 35.06V139.3"/><path class="cq" d="M0 36.35V139.3"/><path class="ct" d="M0 37.63V139.3"/><path class="ce" d="M0 39.43V139.3"/><path class="cd" d="M0 40.2V139.3"/><path class="cp" d="M0 41.49V139.3"/><path class="cr" d="M0 44.31V139.3"/><path class="ch" d="M0 46.11V139.3"/><path class="cp" d="M0 48.17V139.3"/><path class="cq" d="M0 53.95V139.3"/><path class="cp" d="M0 54.97V139.3"/><path class="ct" d="M0 57.16V139.3"/><path class="cj" d="M0 58.19V139.3"/><path class="cp" d="M0 59.21V139.3"/><path class="cc" d="M0 60.39V139.3"/><path class="cp" d="M0 61.63V139.3"/><path class="cj" d="M0 63.48V139.3"/><path class="cp" d="M0 64.72V139.3"/><path class="cd" d="M0 74.01V139.3"/><path class="cp" d="M0 75.25V139.3"/><path class="ch" d="M0 77.35V139.3"/><path class="cp" d="M0 78.59V139.3"/><path class="ch" d="M0 80.72V139.3"/><path class="cp" d="M0 82.16V139.3"/><path class="cj" d="M0 87.4V139.3"/><path class="cp" d="M0 88.84V139.3"/><path class="ct" d="M0 90.45V139.3"/><path class="cp" d="M0 91.69V139.3"/><path class="cd" d="M0 92.87V139.3"/><path class="ce" d="M0 94.67V139.3"/><path class="cp" d="M0 96.21V139.3"/><path class="cd" d="M0 97.24V139.3"/><path class="cp" d="M0 100.07V139.3"/><path class="cc" d="M0 105.36V139.3"/><path class="cp" d="M0 106.6V139.3"/><path class="cd" d="M0 112.55V139.3"/><path class="cp" d="M0 113.79V139.3"/><path class="cd" d="M0 118.41V139.3"/><path class="cp" d="M0 119.24V139.3"/><path class="cd" d="M0 119.98V139.3"/><path class="cp" d="M0 121.01V139.3"/><path class="cd" d="M0 123.06V139.3"/><path class="cp" d="M0 124.09V139.3"/><path class="cd" d="M0 125.25V139.3"/><path class="cw" d="M0 126.53V139.3"/><path class="cc" d="M0 127.3V139.3"/><path class="cp" d="M0 129.36V139.3"/><path class="cj" d="M0 130.13V139.3"/><path class="ct" d="M0 131.41V139.3"/><path class="ch" d="M0 134.5V139.3"/><path class="cp" d="M0 136.81V139.3"/>
</g>
<g transform="translate(324 357.68)" stroke-width="44">
<path class="cp" d="M0 0V139.3"/><path class="cw" d="M0 1.58V139.3"/><path class="cp" d="M0 3.02V139.3"/><path class="cf" d="M0 10.35V139.3"/><path class="cp" d="M0 11.98V139.3"/><path class="cr" d="M0 17.85V139.3"/><path class="cc" d="M0 19.39V139.3"/><path class="cp" d="M0 20.42V139.3"/><path class="ct" d="M0 27.79V139.3"/><path class="cp" d="M0 29.23V139.3"/><path class="cd" d="M0 30.05V139.3"/><path class="cp" d="M0 31.08V139.3"/><path class="ct" d="M0 32.11V139.3"/><path class="cp" d="M0 33.13V139.3"/><path class="cd" d="M0 35.21V139.3"/><path class="cp" d="M0 36.45V139.3"/><path class="ce" d="M0 37.12V139.3"/><path class="cp" d="M0 40.46V139.3"/><path class="ct" d="M0 44.31V139.3"/><path class="cp" d="M0 48.17V139.3"/><path class="cq" d="M0 53.95V139.3"/><path class="cp" d="M0 54.97V139.3"/><path class="cr" d="M0 57.29V139.3"/><path class="cp" d="M0 58.31V139.3"/><path class="ch" d="M0 59.21V139.3"/><path class="cc" d="M0 59.98V139.3"/><path class="cp" d="M0 61.78V139.3"/><path class="cj" d="M0 63.48V139.3"/><path class="cp" d="M0 64.72V139.3"/><path class="cr" d="M0 74.33V139.3"/><path class="cp" d="M0 75.97V139.3"/><path class="cc" d="M0 77.35V139.3"/><path class="cp" d="M0 78.59V139.3"/><path class="cj" d="M0 80.46V139.3"/><path class="cp" d="M0 81.9V139.3"/><path class="cj" d="M0 87.22V139.3"/><path class="co" d="M0 88.25V139.3"/><path class="ct" d="M0 91.07V139.3"/><path class="cp" d="M0 92.1V139.3"/><path class="cd" d="M0 93.13V139.3"/><path class="cj" d="M0 95.44V139.3"/><path class="cc" d="M0 98.53V139.3"/><path class="cd" d="M0 99.3V139.3"/><path class="cp" d="M0 100.32V139.3"/><path class="ch" d="M0 105.36V139.3"/><path class="cp" d="M0 106.6V139.3"/><path class="cj" d="M0 109.5V139.3"/><path class="cp" d="M0 110.94V139.3"/><path class="ca" d="M0 112.86V139.3"/><path class="cp" d="M0 114.5V139.3"/><path class="cw" d="M0 115.89V139.3"/><path class="cp" d="M0 117.13V139.3"/><path class="cd" d="M0 118.46V139.3"/><path class="cp" d="M0 119.7V139.3"/><path class="cc" d="M0 120.47V139.3"/><path class="cp" d="M0 121.29V139.3"/><path class="cd" d="M0 123.06V139.3"/><path class="cp" d="M0 124.09V139.3"/><path class="cv" d="M0 125.76V139.3"/><path class="cc" d="M0 127.56V139.3"/><path class="cp" d="M0 129.36V139.3"/><path class="ca" d="M0 130.9V139.3"/><path class="cr" d="M0 133.21V139.3"/><path class="cx" d="M0 134.24V139.3"/><path class="cs" d="M0 136.55V139.3"/>
</g>
<g transform="translate(367.5 357.68)" stroke-width="43">
<path class="cs" d="M0 0V139.3"/><path class="cp" d="M0 1.66V139.3"/><path class="cf" d="M0 11.04V139.3"/><path class="cp" d="M0 12.06V139.3"/><path class="ce" d="M0 17.59V139.3"/><path class="co" d="M0 20.93V139.3"/><path class="cj" d="M0 21.96V139.3"/><path class="cp" d="M0 24.01V139.3"/><path class="cr" d="M0 28.02V139.3"/><path class="cp" d="M0 29.26V139.3"/><path class="cj" d="M0 30.05V139.3"/><path class="cp" d="M0 31.08V139.3"/><path class="ct" d="M0 32.11V139.3"/><path class="cp" d="M0 33.13V139.3"/><path class="cc" d="M0 35.21V139.3"/><path class="cp" d="M0 36.45V139.3"/><path class="ce" d="M0 37.12V139.3"/><path class="ch" d="M0 40.46V139.3"/><path class="cp" d="M0 41.74V139.3"/><path class="ct" d="M0 44.31V139.3"/><path class="cp" d="M0 48.17V139.3"/><path class="ca" d="M0 53.3V139.3"/><path class="cq" d="M0 54.59V139.3"/><path class="cp" d="M0 55.36V139.3"/><path class="ct" d="M0 57.08V139.3"/><path class="cp" d="M0 58.52V139.3"/><path class="cc" d="M0 60.13V139.3"/><path class="cp" d="M0 61.38V139.3"/><path class="cj" d="M0 74.33V139.3"/><path class="cp" d="M0 75.97V139.3"/><path class="cc" d="M0 77.35V139.3"/><path class="cp" d="M0 78.59V139.3"/><path class="ct" d="M0 80.41V139.3"/><path class="cp" d="M0 81.44V139.3"/><path class="cj" d="M0 87.37V139.3"/><path class="cp" d="M0 88.61V139.3"/><path class="cr" d="M0 90.02V139.3"/><path class="cp" d="M0 91.87V139.3"/><path class="cd" d="M0 93.13V139.3"/><path class="cl" d="M0 95.19V139.3"/><path class="cj" d="M0 96.73V139.3"/><path class="cp" d="M0 98.27V139.3"/><path class="cd" d="M0 99.14V139.3"/><path class="cp" d="M0 99.97V139.3"/><path class="ch" d="M0 105.36V139.3"/><path class="cp" d="M0 106.6V139.3"/><path class="cd" d="M0 112.55V139.3"/><path class="cp" d="M0 113.79V139.3"/><path class="ci" d="M0 118.31V139.3"/><path class="cc" d="M0 119.85V139.3"/><path class="cp" d="M0 121.14V139.3"/><path class="cd" d="M0 123.06V139.3"/><path class="cp" d="M0 124.09V139.3"/><path class="cj" d="M0 125.5V139.3"/><path class="cw" d="M0 126.27V139.3"/><path class="cc" d="M0 127.56V139.3"/><path class="cp" d="M0 129.1V139.3"/><path class="cj" d="M0 130.39V139.3"/><path class="cw" d="M0 131.93V139.3"/><path class="ch" d="M0 134.24V139.3"/><path class="cp" d="M0 136.55V139.3"/>
</g>
<g transform="translate(411 357.68)" stroke-width="44">
<path class="cp" d="M0 0V139.3"/><path class="cd" d="M0 3.87V139.3"/><path class="cp" d="M0 5.11V139.3"/><path class="cf" d="M0 11.04V139.3"/><path class="cp" d="M0 12.06V139.3"/><path class="ch" d="M0 17.59V139.3"/><path class="cd" d="M0 18.87V139.3"/><path class="ch" d="M0 21.44V139.3"/><path class="cp" d="M0 22.47V139.3"/><path class="cu" d="M0 27.87V139.3"/><path class="cd" d="M0 29.67V139.3"/><path class="cp" d="M0 31.21V139.3"/><path class="ch" d="M0 32.11V139.3"/><path class="cp" d="M0 33.13V139.3"/><path class="ch" d="M0 35.06V139.3"/><path class="cf" d="M0 36.6V139.3"/><path class="cg" d="M0 38.15V139.3"/><path class="cc" d="M0 40.46V139.3"/><path class="cp" d="M0 41.74V139.3"/><path class="ct" d="M0 44.31V139.3"/><path class="cp" d="M0 48.17V139.3"/><path class="cr" d="M0 53.95V139.3"/><path class="cp" d="M0 54.97V139.3"/><path class="ct" d="M0 57.16V139.3"/><path class="cc" d="M0 58.19V139.3"/><path class="cp" d="M0 59.21V139.3"/><path class="cu" d="M0 60.16V139.3"/><path class="cp" d="M0 61.6V139.3"/><path class="cj" d="M0 63.48V139.3"/><path class="cp" d="M0 64.72V139.3"/><path class="cd" d="M0 75.15V139.3"/><path class="cp" d="M0 77.2V139.3"/><path class="cu" d="M0 78.74V139.3"/><path class="cc" d="M0 80.54V139.3"/><path class="cp" d="M0 82.34V139.3"/><path class="cj" d="M0 87.22V139.3"/><path class="cx" d="M0 88.76V139.3"/><path class="cd" d="M0 92.1V139.3"/><path class="ch" d="M0 94.67V139.3"/><path class="cl" d="M0 95.7V139.3"/><path class="cj" d="M0 96.98V139.3"/><path class="cp" d="M0 99.81V139.3"/><path class="cc" d="M0 105.36V139.3"/><path class="cp" d="M0 106.6V139.3"/><path class="cx" d="M0 109.5V139.3"/><path class="cp" d="M0 110.94V139.3"/><path class="ca" d="M0 112.86V139.3"/><path class="cp" d="M0 114.5V139.3"/><path class="cw" d="M0 115.89V139.3"/><path class="cp" d="M0 117.13V139.3"/><path class="cd" d="M0 118.31V139.3"/><path class="ch" d="M0 119.59V139.3"/><path class="cp" d="M0 121.14V139.3"/><path class="cd" d="M0 123.06V139.3"/><path class="cp" d="M0 124.09V139.3"/><path class="cj" d="M0 125.5V139.3"/><path class="ch" d="M0 129.36V139.3"/><path class="cj" d="M0 130.64V139.3"/><path class="cw" d="M0 131.67V139.3"/><path class="ch" d="M0 134.24V139.3"/><path class="cv" d="M0 136.55V139.3"/>
</g>
<g transform="translate(454.5 357.68)" stroke-width="43">
<path class="cp" d="M0 0V139.3"/><path class="cq" d="M0 11.04V139.3"/><path class="cp" d="M0 12.06V139.3"/><path class="cd" d="M0 15.15V139.3"/><path class="cp" d="M0 16.18V139.3"/><path class="cr" d="M0 17.33V139.3"/><path class="cj" d="M0 19.13V139.3"/><path class="cp" d="M0 20.42V139.3"/><path class="cj" d="M0 22.37V139.3"/><path class="cp" d="M0 23.61V139.3"/><path class="cc" d="M0 28.02V139.3"/><path class="cp" d="M0 29.26V139.3"/><path class="ch" d="M0 32.11V139.3"/><path class="cp" d="M0 33.13V139.3"/><path class="cc" d="M0 35.06V139.3"/><path class="cd" d="M0 36.86V139.3"/><path class="cw" d="M0 37.89V139.3"/><path class="cc" d="M0 40.46V139.3"/><path class="cp" d="M0 41.74V139.3"/><path class="ct" d="M0 44.31V139.3"/><path class="cc" d="M0 46.11V139.3"/><path class="cp" d="M0 47.91V139.3"/><path class="cr" d="M0 53.95V139.3"/><path class="cp" d="M0 54.97V139.3"/><path class="cd" d="M0 57.8V139.3"/><path class="cp" d="M0 58.83V139.3"/><path class="cc" d="M0 60.16V139.3"/><path class="cp" d="M0 61.6V139.3"/><path class="cj" d="M0 74.25V139.3"/><path class="cp" d="M0 75.27V139.3"/><path class="cc" d="M0 77.38V139.3"/><path class="cp" d="M0 78.82V139.3"/><path class="cc" d="M0 80.46V139.3"/><path class="cp" d="M0 81.9V139.3"/><path class="cu" d="M0 84.29V139.3"/><path class="cp" d="M0 85.53V139.3"/><path class="ca" d="M0 87.48V139.3"/><path class="cp" d="M0 91.07V139.3"/><path class="ca" d="M0 92.85V139.3"/><path class="cp" d="M0 94.7V139.3"/><path class="cj" d="M0 96.22V139.3"/><path class="cp" d="M0 98.27V139.3"/><path class="cd" d="M0 99.14V139.3"/><path class="cp" d="M0 99.97V139.3"/><path class="cc" d="M0 105.36V139.3"/><path class="cp" d="M0 106.6V139.3"/><path class="cd" d="M0 112.55V139.3"/><path class="cp" d="M0 113.79V139.3"/><path class="cr" d="M0 115.64V139.3"/><path class="cp" d="M0 116.88V139.3"/><path class="cd" d="M0 118.05V139.3"/><path class="cw" d="M0 119.34V139.3"/><path class="cc" d="M0 120.37V139.3"/><path class="cp" d="M0 121.39V139.3"/><path class="cd" d="M0 123.06V139.3"/><path class="cp" d="M0 124.09V139.3"/><path class="ca" d="M0 125.25V139.3"/><path class="cc" d="M0 127.56V139.3"/><path class="cp" d="M0 129.36V139.3"/><path class="cj" d="M0 130.13V139.3"/><path class="cw" d="M0 131.41V139.3"/><path class="ch" d="M0 134.24V139.3"/><path class="cs" d="M0 135.27V139.3"/>
</g>
<g transform="translate(498 357.68)" stroke-width="44">
<path class="ce" d="M0 0V139.3"/><path class="cp" d="M0 3.07V139.3"/><path class="cf" d="M0 10.35V139.3"/><path class="cp" d="M0 11.98V139.3"/><path class="cw" d="M0 14.25V139.3"/><path class="cs" d="M0 15.41V139.3"/><path class="ce" d="M0 16.18V139.3"/><path class="cq" d="M0 17.59V139.3"/><path class="ce" d="M0 18.49V139.3"/><path class="cq" d="M0 19.77V139.3"/><path class="ce" d="M0 21.06V139.3"/><path class="cx" d="M0 21.83V139.3"/><path class="cp" d="M0 24.27V139.3"/><path class="cw" d="M0 24.9V139.3"/><path class="cp" d="M0 25.82V139.3"/><path class="cw" d="M0 27.87V139.3"/><path class="cs" d="M0 29.28V139.3"/><path class="cq" d="M0 30.31V139.3"/><path class="cs" d="M0 31.21V139.3"/><path class="cq" d="M0 32.36V139.3"/><path class="cp" d="M0 33.26V139.3"/><path class="ce" d="M0 35.19V139.3"/><path class="cf" d="M0 37.25V139.3"/><path class="cq" d="M0 39.3V139.3"/><path class="cp" d="M0 41.23V139.3"/><path class="cf" d="M0 43.67V139.3"/><path class="cs" d="M0 45.47V139.3"/><path class="cr" d="M0 46.5V139.3"/><path class="cp" d="M0 48.04V139.3"/><path class="cq" d="M0 50.41V139.3"/><path class="cp" d="M0 51.96V139.3"/><path class="cw" d="M0 54.2V139.3"/><path class="cp" d="M0 55.11V139.3"/><path class="ce" d="M0 57.16V139.3"/><path class="cq" d="M0 58.83V139.3"/><path class="cs" d="M0 59.73V139.3"/><path class="cf" d="M0 60.63V139.3"/><path class="cq" d="M0 62.81V139.3"/><path class="cp" d="M0 64.22V139.3"/><path class="cw" d="M0 70.7V139.3"/><path class="cp" d="M0 72.14V139.3"/><path class="cq" d="M0 74.12V139.3"/><path class="cs" d="M0 76.17V139.3"/><path class="cq" d="M0 77.46V139.3"/><path class="cs" d="M0 79.26V139.3"/><path class="cq" d="M0 80.54V139.3"/><path class="cp" d="M0 82.47V139.3"/><path class="cw" d="M0 84.27V139.3"/><path class="cg" d="M0 85.55V139.3"/><path class="ce" d="M0 87.48V139.3"/><path class="cq" d="M0 90.56V139.3"/><path class="cg" d="M0 91.85V139.3"/><path class="ce" d="M0 93.39V139.3"/><path class="ci" d="M0 94.29V139.3"/><path class="ce" d="M0 95.83V139.3"/><path class="ch" d="M0 96.47V139.3"/><path class="cd" d="M0 97.75V139.3"/><path class="cw" d="M0 98.27V139.3"/><path class="cb" d="M0 99.68V139.3"/><path class="cg" d="M0 100.32V139.3"/><path class="cd" d="M0 101.22V139.3"/><path class="cp" d="M0 102.38V139.3"/><path class="cq" d="M0 104.52V139.3"/><path class="cp" d="M0 106.16V139.3"/><path class="cs" d="M0 109.63V139.3"/><path class="cp" d="M0 111.06V139.3"/><path class="ci" d="M0 113.04V139.3"/><path class="cg" d="M0 114.46V139.3"/><path class="cw" d="M0 116V139.3"/><path class="cs" d="M0 117.15V139.3"/><path class="ce" d="M0 118.31V139.3"/><path class="cp" d="M0 121.14V139.3"/><path class="cq" d="M0 123.32V139.3"/><path class="ct" d="M0 124.22V139.3"/><path class="cb" d="M0 126.15V139.3"/><path class="ce" d="M0 126.92V139.3"/><path class="cp" d="M0 128.33V139.3"/><path class="cc" d="M0 130.13V139.3"/><path class="cf" d="M0 131.29V139.3"/><path class="cq" d="M0 133.34V139.3"/><path class="cg" d="M0 134.63V139.3"/>
</g>
<g transform="translate(541.5 357.68)" stroke-width="43">
<path class="cg" d="M0 0V139.3"/><path class="cv" d="M0 2.94V139.3"/><path class="cg" d="M0 4.74V139.3"/><path class="cv" d="M0 5.77V139.3"/><path class="co" d="M0 7.06V139.3"/><path class="cw" d="M0 8.08V139.3"/><path class="ch" d="M0 9.11V139.3"/><path class="cf" d="M0 10.91V139.3"/><path class="cv" d="M0 13.48V139.3"/><path class="ca" d="M0 15.53V139.3"/><path class="cr" d="M0 21.44V139.3"/><path class="ch" d="M0 23.76V139.3"/><path class="cr" d="M0 25.56V139.3"/><path class="cu" d="M0 26.58V139.3"/><path class="cj" d="M0 29.92V139.3"/><path class="cc" d="M0 31.21V139.3"/><path class="cd" d="M0 32.49V139.3"/><path class="ct" d="M0 33.52V139.3"/><path class="cl" d="M0 36.35V139.3"/><path class="ca" d="M0 38.4V139.3"/><path class="co" d="M0 41.23V139.3"/><path class="cd" d="M0 44.57V139.3"/><path class="cc" d="M0 47.4V139.3"/><path class="cu" d="M0 49.71V139.3"/><path class="cd" d="M0 54.08V139.3"/><path class="ch" d="M0 55.31V139.3"/><path class="cd" d="M0 56.95V139.3"/><path class="cc" d="M0 60.5V139.3"/><path class="cd" d="M0 63.58V139.3"/><path class="cj" d="M0 65.3V139.3"/><path class="ca" d="M0 66.74V139.3"/><path class="cj" d="M0 69.88V139.3"/><path class="ca" d="M0 70.9V139.3"/><path class="cc" d="M0 76.05V139.3"/><path class="cd" d="M0 77.07V139.3"/><path class="cc" d="M0 78.23V139.3"/><path class="cd" d="M0 82.34V139.3"/><path class="cj" d="M0 83.37V139.3"/><path class="cd" d="M0 86.96V139.3"/><path class="ca" d="M0 90.82V139.3"/>
</g>
<g transform="translate(584.5 357.68)" stroke-width="43">
<path class="cf" d="M0 0V139.3"/><path class="ci" d="M0 3.46V139.3"/><path class="cv" d="M0 5V139.3"/><path class="cf" d="M0 6.8V139.3"/><path class="cr" d="M0 11.68V139.3"/><path class="cf" d="M0 12.71V139.3"/><path class="co" d="M0 13.99V139.3"/><path class="cf" d="M0 15.53V139.3"/><path class="cq" d="M0 21.19V139.3"/><path class="cd" d="M0 21.96V139.3"/><path class="cr" d="M0 23.5V139.3"/><path class="cd" d="M0 29.15V139.3"/><path class="cr" d="M0 30.44V139.3"/><path class="cd" d="M0 33.26V139.3"/><path class="co" d="M0 34.42V139.3"/><path class="cd" d="M0 35.45V139.3"/><path class="ct" d="M0 36.35V139.3"/><path class="cr" d="M0 38.4V139.3"/><path class="co" d="M0 41.49V139.3"/><path class="ct" d="M0 44.83V139.3"/><path class="cu" d="M0 48.68V139.3"/><path class="ca" d="M0 50.74V139.3"/><path class="cb" d="M0 53.25V139.3"/><path class="cd" d="M0 54.9V139.3"/><path class="cx" d="M0 56.9V139.3"/><path class="cd" d="M0 61.27V139.3"/><path class="ch" d="M0 62.3V139.3"/><path class="cd" d="M0 65.12V139.3"/><path class="cx" d="M0 66.41V139.3"/><path class="cd" d="M0 75.92V139.3"/><path class="cc" d="M0 77.04V139.3"/><path class="ca" d="M0 77.87V139.3"/><path class="cj" d="M0 82.44V139.3"/><path class="cd" d="M0 83.27V139.3"/><path class="cj" d="M0 85.68V139.3"/><path class="ca" d="M0 89.79V139.3"/>
</g>
<rect x="85.15" y="357.68" width="520.35" height="139.3" fill="none" stroke="#000" stroke-width="1.2"/>
<text class="s" transform="translate(61.2 427.33) rotate(-90)" font-size="14.8" text-anchor="middle">SINE</text>
<text class="s" transform="translate(76.8 427.33) rotate(-90)" font-size="14.7" text-anchor="middle">n=4426</text>
<rect x="637.7" y="357.98" width="7.2" height="138.6" fill="url(#cw)" stroke="#000" stroke-width="1"/>
<path d="M644.9 357.98H650" stroke="#000" stroke-width="1.25"/>
<text class="s" x="655.6" y="362.88" font-size="14.2">1.00</text>
<path d="M644.9 392.63H650" stroke="#000" stroke-width="1.25"/>
<text class="s" x="655.6" y="397.53" font-size="14.2">0.75</text>
<path d="M644.9 427.28H650" stroke="#000" stroke-width="1.25"/>
<text class="s" x="655.6" y="432.18" font-size="14.2">0.50</text>
<path d="M644.9 461.93H650" stroke="#000" stroke-width="1.25"/>
<text class="s" x="655.6" y="466.83" font-size="14.2">0.25</text>
<path d="M644.9 496.58H650" stroke="#000" stroke-width="1.25"/>
<text class="s" x="655.6" y="501.48" font-size="14.2">0.00</text>
</g>
<g>
<g transform="translate(106.5 524.52)" stroke-width="43">
<path class="cp" d="M0 0V139.3"/><path class="cf" d="M0 9.71V139.3"/><path class="cp" d="M0 11.15V139.3"/><path class="ce" d="M0 13.26V139.3"/><path class="cp" d="M0 14.28V139.3"/><path class="ce" d="M0 18.39V139.3"/><path class="cp" d="M0 19.42V139.3"/><path class="cf" d="M0 21.6V139.3"/><path class="cq" d="M0 25.46V139.3"/><path class="cf" d="M0 27V139.3"/><path class="ce" d="M0 29.83V139.3"/><path class="cp" d="M0 32.14V139.3"/><path class="cw" d="M0 43.57V139.3"/><path class="cp" d="M0 44.6V139.3"/><path class="cw" d="M0 48.58V139.3"/><path class="ci" d="M0 49.61V139.3"/><path class="cs" d="M0 51.15V139.3"/><path class="cp" d="M0 51.92V139.3"/><path class="ce" d="M0 57.19V139.3"/><path class="cp" d="M0 58.22V139.3"/><path class="cf" d="M0 62.64V139.3"/><path class="cp" d="M0 64.08V139.3"/><path class="cg" d="M0 65.16V139.3"/><path class="cp" d="M0 66.18V139.3"/><path class="ch" d="M0 69.91V139.3"/><path class="cw" d="M0 70.68V139.3"/><path class="cp" d="M0 71.96V139.3"/><path class="ce" d="M0 77.23V139.3"/><path class="cp" d="M0 78.26V139.3"/><path class="ce" d="M0 81.34V139.3"/><path class="cp" d="M0 82.37V139.3"/><path class="ct" d="M0 89.59V139.3"/><path class="cp" d="M0 90.83V139.3"/><path class="cj" d="M0 93.8V139.3"/><path class="cw" d="M0 94.57V139.3"/><path class="cp" d="M0 95.86V139.3"/><path class="cw" d="M0 99.3V139.3"/><path class="cp" d="M0 100.13V139.3"/><path class="ca" d="M0 101.25V139.3"/><path class="cf" d="M0 102.28V139.3"/><path class="ci" d="M0 104.6V139.3"/><path class="cf" d="M0 105.37V139.3"/><path class="cp" d="M0 107.42V139.3"/><path class="ca" d="M0 108.19V139.3"/><path class="cv" d="M0 109.22V139.3"/><path class="cp" d="M0 110.25V139.3"/><path class="cc" d="M0 111.43V139.3"/><path class="cp" d="M0 112.67V139.3"/><path class="ca" d="M0 114.36V139.3"/><path class="cp" d="M0 117.7V139.3"/><path class="cw" d="M0 118.86V139.3"/><path class="cp" d="M0 119.88V139.3"/><path class="cd" d="M0 121.17V139.3"/><path class="cp" d="M0 122.19V139.3"/><path class="ce" d="M0 123.22V139.3"/><path class="cp" d="M0 124.25V139.3"/><path class="ce" d="M0 127.34V139.3"/><path class="cp" d="M0 128.36V139.3"/><path class="ce" d="M0 131.47V139.3"/><path class="cp" d="M0 132.71V139.3"/>
</g>
<g transform="translate(150 524.52)" stroke-width="44">
<path class="cw" d="M0 0V139.3"/><path class="cp" d="M0 1.31V139.3"/><path class="cw" d="M0 9.27V139.3"/><path class="ch" d="M0 10.3V139.3"/><path class="cp" d="M0 11.33V139.3"/><path class="ce" d="M0 18.39V139.3"/><path class="cp" d="M0 19.42V139.3"/><path class="cf" d="M0 22.38V139.3"/><path class="cs" d="M0 24.43V139.3"/><path class="cp" d="M0 27.26V139.3"/><path class="cf" d="M0 29.26V139.3"/><path class="cp" d="M0 30.91V139.3"/><path class="cw" d="M0 43.57V139.3"/><path class="cp" d="M0 44.6V139.3"/><path class="ch" d="M0 48.33V139.3"/><path class="cr" d="M0 49.61V139.3"/><path class="cp" d="M0 51.92V139.3"/><path class="ce" d="M0 63.36V139.3"/><path class="cp" d="M0 64.38V139.3"/><path class="cw" d="M0 65.41V139.3"/><path class="cp" d="M0 66.44V139.3"/><path class="ct" d="M0 72.63V139.3"/><path class="cp" d="M0 73.87V139.3"/><path class="cr" d="M0 81.31V139.3"/><path class="cp" d="M0 82.14V139.3"/><path class="ch" d="M0 93.8V139.3"/><path class="cw" d="M0 94.57V139.3"/><path class="cp" d="M0 95.86V139.3"/><path class="cj" d="M0 101.13V139.3"/><path class="cp" d="M0 102.15V139.3"/><path class="cr" d="M0 103.15V139.3"/><path class="cp" d="M0 103.98V139.3"/><path class="cc" d="M0 105.11V139.3"/><path class="cp" d="M0 107.16V139.3"/><path class="cd" d="M0 108.45V139.3"/><path class="cv" d="M0 109.22V139.3"/><path class="cp" d="M0 110.25V139.3"/><path class="cc" d="M0 111.2V139.3"/><path class="cp" d="M0 112.64V139.3"/><path class="ca" d="M0 115.62V139.3"/><path class="cp" d="M0 117.47V139.3"/><path class="cd" d="M0 121.17V139.3"/><path class="cp" d="M0 122.19V139.3"/><path class="cq" d="M0 123.19V139.3"/><path class="cp" d="M0 124.02V139.3"/><path class="ce" d="M0 127.34V139.3"/><path class="cp" d="M0 128.36V139.3"/>
</g>
<g transform="translate(193.5 524.52)" stroke-width="43">
<path class="cp" d="M0 0V139.3"/><path class="ct" d="M0 9.01V139.3"/><path class="cd" d="M0 10.04V139.3"/><path class="cp" d="M0 11.33V139.3"/><path class="cr" d="M0 13.26V139.3"/><path class="cp" d="M0 14.28V139.3"/><path class="cr" d="M0 18.39V139.3"/><path class="cp" d="M0 19.42V139.3"/><path class="ce" d="M0 22.12V139.3"/><path class="cq" d="M0 23.66V139.3"/><path class="cp" d="M0 26.74V139.3"/><path class="cq" d="M0 29.26V139.3"/><path class="cp" d="M0 30.91V139.3"/><path class="cr" d="M0 43.54V139.3"/><path class="cp" d="M0 44.37V139.3"/><path class="ct" d="M0 48.58V139.3"/><path class="cx" d="M0 49.61V139.3"/><path class="ct" d="M0 51.41V139.3"/><path class="cp" d="M0 52.18V139.3"/><path class="cd" d="M0 63.38V139.3"/><path class="cp" d="M0 64.62V139.3"/><path class="cq" d="M0 65.41V139.3"/><path class="cp" d="M0 66.44V139.3"/><path class="cj" d="M0 72.66V139.3"/><path class="cp" d="M0 74.1V139.3"/><path class="cr" d="M0 77.23V139.3"/><path class="cp" d="M0 78.26V139.3"/><path class="cr" d="M0 81.34V139.3"/><path class="cp" d="M0 82.37V139.3"/><path class="cc" d="M0 93.55V139.3"/><path class="cq" d="M0 94.57V139.3"/><path class="cp" d="M0 95.86V139.3"/><path class="cd" d="M0 101.13V139.3"/><path class="cp" d="M0 102.15V139.3"/><path class="cq" d="M0 103.05V139.3"/><path class="cd" d="M0 104.6V139.3"/><path class="ch" d="M0 105.37V139.3"/><path class="cp" d="M0 107.42V139.3"/><path class="cd" d="M0 108.45V139.3"/><path class="cq" d="M0 109.22V139.3"/><path class="cp" d="M0 110.5V139.3"/><path class="cj" d="M0 111.43V139.3"/><path class="cp" d="M0 112.67V139.3"/><path class="ca" d="M0 115.85V139.3"/><path class="cp" d="M0 117.49V139.3"/><path class="cd" d="M0 121.17V139.3"/><path class="cp" d="M0 122.19V139.3"/><path class="cr" d="M0 123.22V139.3"/><path class="cp" d="M0 124.25V139.3"/><path class="ce" d="M0 127.34V139.3"/><path class="cp" d="M0 128.36V139.3"/>
</g>
<g transform="translate(237 524.52)" stroke-width="44">
<path class="cp" d="M0 0V139.3"/><path class="cs" d="M0 9.14V139.3"/><path class="cp" d="M0 10.17V139.3"/><path class="cf" d="M0 13.26V139.3"/><path class="cp" d="M0 14.28V139.3"/><path class="cs" d="M0 18.39V139.3"/><path class="cp" d="M0 19.42V139.3"/><path class="cv" d="M0 21.35V139.3"/><path class="cq" d="M0 22.89V139.3"/><path class="cp" d="M0 23.66V139.3"/><path class="cs" d="M0 25.15V139.3"/><path class="cp" d="M0 26.79V139.3"/><path class="cs" d="M0 28.93V139.3"/><path class="cp" d="M0 29.95V139.3"/><path class="cs" d="M0 43.54V139.3"/><path class="cp" d="M0 44.37V139.3"/><path class="cc" d="M0 49.58V139.3"/><path class="cp" d="M0 51.44V139.3"/><path class="cd" d="M0 63.38V139.3"/><path class="cp" d="M0 64.62V139.3"/><path class="cw" d="M0 65.41V139.3"/><path class="cp" d="M0 66.44V139.3"/><path class="ch" d="M0 72.66V139.3"/><path class="cp" d="M0 74.1V139.3"/><path class="cw" d="M0 77.23V139.3"/><path class="cp" d="M0 78.26V139.3"/><path class="cr" d="M0 81.31V139.3"/><path class="cp" d="M0 82.14V139.3"/><path class="cx" d="M0 93.55V139.3"/><path class="cs" d="M0 95.09V139.3"/><path class="cp" d="M0 95.86V139.3"/><path class="cd" d="M0 101.13V139.3"/><path class="cp" d="M0 102.15V139.3"/><path class="cj" d="M0 103.82V139.3"/><path class="cp" d="M0 107.42V139.3"/><path class="cd" d="M0 108.45V139.3"/><path class="cq" d="M0 109.22V139.3"/><path class="cp" d="M0 110.5V139.3"/><path class="cj" d="M0 111.43V139.3"/><path class="cp" d="M0 112.67V139.3"/><path class="ca" d="M0 115.87V139.3"/><path class="cp" d="M0 117.73V139.3"/><path class="cl" d="M0 120.53V139.3"/><path class="cd" d="M0 121.3V139.3"/><path class="cu" d="M0 122.32V139.3"/><path class="cp" d="M0 124.12V139.3"/><path class="cr" d="M0 127.34V139.3"/><path class="cp" d="M0 128.36V139.3"/>
</g>
<g transform="translate(280.5 524.52)" stroke-width="43">
<path class="cp" d="M0 0V139.3"/><path class="cs" d="M0 9.14V139.3"/><path class="cp" d="M0 10.17V139.3"/><path class="cq" d="M0 13.26V139.3"/><path class="cp" d="M0 14.28V139.3"/><path class="ct" d="M0 18.39V139.3"/><path class="cp" d="M0 19.42V139.3"/><path class="cv" d="M0 21.86V139.3"/><path class="cq" d="M0 23.15V139.3"/><path class="cs" d="M0 23.92V139.3"/><path class="ct" d="M0 24.69V139.3"/><path class="cp" d="M0 26.74V139.3"/><path class="cq" d="M0 29V139.3"/><path class="cp" d="M0 30.65V139.3"/><path class="cs" d="M0 43.54V139.3"/><path class="cp" d="M0 44.37V139.3"/><path class="cj" d="M0 46.68V139.3"/><path class="cp" d="M0 47.92V139.3"/><path class="cc" d="M0 49.1V139.3"/><path class="ct" d="M0 51.15V139.3"/><path class="cp" d="M0 51.92V139.3"/><path class="cq" d="M0 65.41V139.3"/><path class="cp" d="M0 66.44V139.3"/><path class="ch" d="M0 70.68V139.3"/><path class="cp" d="M0 74.02V139.3"/><path class="cd" d="M0 77V139.3"/><path class="cp" d="M0 78.24V139.3"/><path class="ca" d="M0 81.11V139.3"/><path class="cp" d="M0 82.35V139.3"/><path class="cd" d="M0 92.52V139.3"/><path class="cr" d="M0 94.57V139.3"/><path class="cp" d="M0 95.86V139.3"/><path class="cd" d="M0 101.13V139.3"/><path class="cp" d="M0 102.15V139.3"/><path class="cr" d="M0 103.31V139.3"/><path class="cd" d="M0 104.34V139.3"/><path class="cc" d="M0 105.37V139.3"/><path class="cp" d="M0 107.16V139.3"/><path class="cd" d="M0 108.32V139.3"/><path class="cp" d="M0 109.35V139.3"/><path class="cj" d="M0 111.43V139.3"/><path class="cp" d="M0 112.67V139.3"/><path class="ca" d="M0 114.62V139.3"/><path class="cp" d="M0 117.96V139.3"/><path class="cd" d="M0 119.08V139.3"/><path class="cp" d="M0 119.91V139.3"/><path class="cd" d="M0 120.91V139.3"/><path class="cp" d="M0 121.94V139.3"/><path class="ce" d="M0 127.34V139.3"/><path class="cp" d="M0 128.36V139.3"/>
</g>
<g transform="translate(324 524.52)" stroke-width="44">
<path class="cp" d="M0 0V139.3"/><path class="cj" d="M0 3.77V139.3"/><path class="cp" d="M0 5.01V139.3"/><path class="cu" d="M0 9.14V139.3"/><path class="cp" d="M0 10.17V139.3"/><path class="cq" d="M0 13.26V139.3"/><path class="cp" d="M0 14.28V139.3"/><path class="cu" d="M0 18.39V139.3"/><path class="cp" d="M0 19.42V139.3"/><path class="cv" d="M0 21.53V139.3"/><path class="cp" d="M0 22.97V139.3"/><path class="co" d="M0 24.43V139.3"/><path class="cs" d="M0 26.23V139.3"/><path class="cp" d="M0 27.26V139.3"/><path class="cf" d="M0 29.32V139.3"/><path class="cp" d="M0 31.36V139.3"/><path class="cu" d="M0 43.57V139.3"/><path class="cp" d="M0 44.6V139.3"/><path class="cc" d="M0 49.1V139.3"/><path class="cr" d="M0 51.15V139.3"/><path class="cp" d="M0 51.92V139.3"/><path class="cr" d="M0 65.41V139.3"/><path class="cp" d="M0 66.44V139.3"/><path class="cr" d="M0 70.6V139.3"/><path class="cp" d="M0 72.04V139.3"/><path class="cr" d="M0 77.23V139.3"/><path class="cp" d="M0 78.26V139.3"/><path class="ch" d="M0 81.34V139.3"/><path class="cp" d="M0 82.37V139.3"/><path class="cj" d="M0 93.55V139.3"/><path class="cs" d="M0 94.83V139.3"/><path class="cp" d="M0 95.86V139.3"/><path class="cr" d="M0 99.09V139.3"/><path class="cp" d="M0 100.33V139.3"/><path class="cd" d="M0 101.13V139.3"/><path class="cp" d="M0 102.15V139.3"/><path class="cr" d="M0 103.31V139.3"/><path class="cd" d="M0 104.34V139.3"/><path class="cp" d="M0 107.42V139.3"/><path class="cd" d="M0 108.19V139.3"/><path class="cs" d="M0 109.48V139.3"/><path class="cp" d="M0 110.5V139.3"/><path class="cj" d="M0 111.43V139.3"/><path class="cp" d="M0 112.67V139.3"/><path class="ca" d="M0 114.62V139.3"/><path class="cp" d="M0 117.96V139.3"/><path class="ca" d="M0 119.98V139.3"/><path class="cp" d="M0 121.84V139.3"/><path class="cc" d="M0 122.97V139.3"/><path class="cp" d="M0 123.99V139.3"/><path class="cr" d="M0 127.34V139.3"/><path class="cp" d="M0 128.36V139.3"/>
</g>
<g transform="translate(367.5 524.52)" stroke-width="43">
<path class="cp" d="M0 0V139.3"/><path class="ct" d="M0 9.14V139.3"/><path class="cp" d="M0 10.17V139.3"/><path class="cr" d="M0 13.26V139.3"/><path class="cp" d="M0 14.28V139.3"/><path class="cc" d="M0 18.39V139.3"/><path class="cp" d="M0 19.42V139.3"/><path class="cv" d="M0 21.76V139.3"/><path class="cp" d="M0 22.99V139.3"/><path class="ct" d="M0 24.66V139.3"/><path class="cp" d="M0 26.51V139.3"/><path class="cq" d="M0 29V139.3"/><path class="cp" d="M0 30.65V139.3"/><path class="ct" d="M0 43.57V139.3"/><path class="cp" d="M0 44.6V139.3"/><path class="cj" d="M0 49.35V139.3"/><path class="ct" d="M0 51.15V139.3"/><path class="cp" d="M0 51.92V139.3"/><path class="cw" d="M0 65.41V139.3"/><path class="cp" d="M0 66.44V139.3"/><path class="ct" d="M0 70.83V139.3"/><path class="cp" d="M0 72.07V139.3"/><path class="cc" d="M0 77.23V139.3"/><path class="cp" d="M0 78.26V139.3"/><path class="ch" d="M0 81.34V139.3"/><path class="cp" d="M0 82.37V139.3"/><path class="cj" d="M0 93.55V139.3"/><path class="cr" d="M0 94.83V139.3"/><path class="cp" d="M0 95.86V139.3"/><path class="cd" d="M0 101.13V139.3"/><path class="cp" d="M0 102.15V139.3"/><path class="cd" d="M0 103.82V139.3"/><path class="cp" d="M0 107.42V139.3"/><path class="cd" d="M0 108.19V139.3"/><path class="cr" d="M0 109.48V139.3"/><path class="cp" d="M0 110.5V139.3"/><path class="cj" d="M0 111.43V139.3"/><path class="cp" d="M0 112.67V139.3"/><path class="ca" d="M0 114.62V139.3"/><path class="cp" d="M0 117.96V139.3"/><path class="cd" d="M0 120.68V139.3"/><path class="cp" d="M0 121.92V139.3"/><path class="ct" d="M0 123.19V139.3"/><path class="cp" d="M0 124.02V139.3"/><path class="cr" d="M0 127.34V139.3"/><path class="cp" d="M0 128.36V139.3"/>
</g>
<g transform="translate(411 524.52)" stroke-width="44">
<path class="cp" d="M0 0V139.3"/><path class="cw" d="M0 1.74V139.3"/><path class="cp" d="M0 3.18V139.3"/><path class="cu" d="M0 9.14V139.3"/><path class="cp" d="M0 10.17V139.3"/><path class="cr" d="M0 13.26V139.3"/><path class="cp" d="M0 14.28V139.3"/><path class="ct" d="M0 18.39V139.3"/><path class="cp" d="M0 19.42V139.3"/><path class="cv" d="M0 21.76V139.3"/><path class="cp" d="M0 22.99V139.3"/><path class="cx" d="M0 24.61V139.3"/><path class="cp" d="M0 26.05V139.3"/><path class="cq" d="M0 29.06V139.3"/><path class="cp" d="M0 31.11V139.3"/><path class="ch" d="M0 43.57V139.3"/><path class="cp" d="M0 44.6V139.3"/><path class="cc" d="M0 48.84V139.3"/><path class="ct" d="M0 51.15V139.3"/><path class="cp" d="M0 51.92V139.3"/><path class="cu" d="M0 61.27V139.3"/><path class="cp" d="M0 62.1V139.3"/><path class="cr" d="M0 63.36V139.3"/><path class="cp" d="M0 64.38V139.3"/><path class="ct" d="M0 65.41V139.3"/><path class="cp" d="M0 66.44V139.3"/><path class="cc" d="M0 68.52V139.3"/><path class="cp" d="M0 69.76V139.3"/><path class="ct" d="M0 70.68V139.3"/><path class="cj" d="M0 72.48V139.3"/><path class="cp" d="M0 74.28V139.3"/><path class="ch" d="M0 77.23V139.3"/><path class="cp" d="M0 78.26V139.3"/><path class="cc" d="M0 81.34V139.3"/><path class="cp" d="M0 82.37V139.3"/><path class="cc" d="M0 93.55V139.3"/><path class="cr" d="M0 94.83V139.3"/><path class="cp" d="M0 95.86V139.3"/><path class="cq" d="M0 99.09V139.3"/><path class="cp" d="M0 100.33V139.3"/><path class="cd" d="M0 101.13V139.3"/><path class="cp" d="M0 102.15V139.3"/><path class="cc" d="M0 103.31V139.3"/><path class="cp" d="M0 107.42V139.3"/><path class="cd" d="M0 108.19V139.3"/><path class="cr" d="M0 109.48V139.3"/><path class="cp" d="M0 110.5V139.3"/><path class="cj" d="M0 111.43V139.3"/><path class="cp" d="M0 112.67V139.3"/><path class="cc" d="M0 114.62V139.3"/><path class="ca" d="M0 115.39V139.3"/><path class="cp" d="M0 117.7V139.3"/><path class="cd" d="M0 121.14V139.3"/><path class="cp" d="M0 121.97V139.3"/><path class="cj" d="M0 122.97V139.3"/><path class="cp" d="M0 123.99V139.3"/><path class="cu" d="M0 127.34V139.3"/><path class="cp" d="M0 128.36V139.3"/><path class="cd" d="M0 136.46V139.3"/>
</g>
<g transform="translate(454.5 524.52)" stroke-width="43">
<path class="cp" d="M0 0V139.3"/><path class="ce" d="M0 9.94V139.3"/><path class="cp" d="M0 11.18V139.3"/><path class="cr" d="M0 13.26V139.3"/><path class="cp" d="M0 14.28V139.3"/><path class="cc" d="M0 18.39V139.3"/><path class="cp" d="M0 19.42V139.3"/><path class="ci" d="M0 21.76V139.3"/><path class="cp" d="M0 22.99V139.3"/><path class="ct" d="M0 24.92V139.3"/><path class="cp" d="M0 26.77V139.3"/><path class="cr" d="M0 28.54V139.3"/><path class="cc" d="M0 29.83V139.3"/><path class="cp" d="M0 31.11V139.3"/><path class="ct" d="M0 43.57V139.3"/><path class="cp" d="M0 44.6V139.3"/><path class="cc" d="M0 48.84V139.3"/><path class="ct" d="M0 51.15V139.3"/><path class="cp" d="M0 51.92V139.3"/><path class="ce" d="M0 63.36V139.3"/><path class="cp" d="M0 64.38V139.3"/><path class="ct" d="M0 65.41V139.3"/><path class="cp" d="M0 66.44V139.3"/><path class="ct" d="M0 70.42V139.3"/><path class="cj" d="M0 72.48V139.3"/><path class="cp" d="M0 74.28V139.3"/><path class="cj" d="M0 77.23V139.3"/><path class="cp" d="M0 78.26V139.3"/><path class="cc" d="M0 81.34V139.3"/><path class="cp" d="M0 82.37V139.3"/><path class="cx" d="M0 93.68V139.3"/><path class="cp" d="M0 94.7V139.3"/><path class="ct" d="M0 95.35V139.3"/><path class="cj" d="M0 96.63V139.3"/><path class="cp" d="M0 98.17V139.3"/><path class="cd" d="M0 101.13V139.3"/><path class="cp" d="M0 102.15V139.3"/><path class="ct" d="M0 103.31V139.3"/><path class="cj" d="M0 104.08V139.3"/><path class="cp" d="M0 107.42V139.3"/><path class="cd" d="M0 108.19V139.3"/><path class="ct" d="M0 109.48V139.3"/><path class="cp" d="M0 110.76V139.3"/><path class="cj" d="M0 111.43V139.3"/><path class="cp" d="M0 112.67V139.3"/><path class="ca" d="M0 114.62V139.3"/><path class="cp" d="M0 117.96V139.3"/><path class="cd" d="M0 121.14V139.3"/><path class="cp" d="M0 121.97V139.3"/><path class="cc" d="M0 122.97V139.3"/><path class="cp" d="M0 123.99V139.3"/><path class="cr" d="M0 127.34V139.3"/><path class="cp" d="M0 128.36V139.3"/><path class="cd" d="M0 136.46V139.3"/>
</g>
<g transform="translate(498 524.52)" stroke-width="44">
<path class="cp" d="M0 0V139.3"/><path class="cw" d="M0 4.57V139.3"/><path class="cp" d="M0 6.01V139.3"/><path class="cq" d="M0 9.24V139.3"/><path class="cp" d="M0 11.1V139.3"/><path class="cf" d="M0 13.26V139.3"/><path class="cp" d="M0 14.28V139.3"/><path class="ce" d="M0 18.39V139.3"/><path class="cp" d="M0 19.42V139.3"/><path class="ce" d="M0 22.12V139.3"/><path class="cg" d="M0 28.28V139.3"/><path class="cf" d="M0 29.31V139.3"/><path class="cp" d="M0 32.14V139.3"/><path class="cw" d="M0 43.57V139.3"/><path class="cp" d="M0 44.6V139.3"/><path class="cw" d="M0 48.33V139.3"/><path class="cp" d="M0 51.92V139.3"/><path class="ce" d="M0 57.19V139.3"/><path class="cp" d="M0 58.22V139.3"/><path class="cf" d="M0 62.41V139.3"/><path class="cp" d="M0 64.05V139.3"/><path class="cg" d="M0 65.18V139.3"/><path class="cp" d="M0 66.42V139.3"/><path class="cf" d="M0 69.88V139.3"/><path class="cp" d="M0 71.73V139.3"/><path class="cq" d="M0 77.23V139.3"/><path class="cp" d="M0 78.26V139.3"/><path class="ce" d="M0 81.34V139.3"/><path class="cp" d="M0 82.37V139.3"/><path class="cw" d="M0 88.56V139.3"/><path class="cp" d="M0 89.8V139.3"/><path class="cw" d="M0 94.52V139.3"/><path class="cp" d="M0 96.17V139.3"/><path class="cq" d="M0 99.09V139.3"/><path class="cp" d="M0 100.33V139.3"/><path class="cc" d="M0 101.13V139.3"/><path class="cp" d="M0 102.15V139.3"/><path class="ce" d="M0 103.05V139.3"/><path class="cq" d="M0 104.6V139.3"/><path class="cp" d="M0 107.68V139.3"/><path class="cv" d="M0 108.63V139.3"/><path class="cp" d="M0 110.07V139.3"/><path class="cx" d="M0 111.43V139.3"/><path class="cp" d="M0 112.67V139.3"/><path class="cj" d="M0 114.62V139.3"/><path class="cw" d="M0 118.21V139.3"/><path class="cp" d="M0 120.27V139.3"/><path class="cd" d="M0 121.14V139.3"/><path class="cp" d="M0 121.97V139.3"/><path class="cq" d="M0 122.99V139.3"/><path class="cp" d="M0 124.23V139.3"/><path class="cq" d="M0 127.34V139.3"/><path class="cp" d="M0 128.36V139.3"/><path class="ce" d="M0 131.47V139.3"/><path class="cp" d="M0 132.71V139.3"/><path class="cw" d="M0 135.89V139.3"/><path class="cp" d="M0 137.53V139.3"/>
</g>
<g transform="translate(541.5 524.52)" stroke-width="43">
<path class="cl" d="M0 0V139.3"/><path class="cw" d="M0 1.56V139.3"/><path class="cv" d="M0 6.19V139.3"/><path class="ca" d="M0 7.22V139.3"/><path class="ch" d="M0 11.22V139.3"/><path class="cd" d="M0 12.46V139.3"/><path class="cb" d="M0 13.85V139.3"/><path class="cd" d="M0 15.48V139.3"/><path class="cf" d="M0 16.72V139.3"/><path class="ct" d="M0 17.75V139.3"/><path class="ce" d="M0 20.32V139.3"/><path class="ci" d="M0 21.35V139.3"/><path class="cr" d="M0 23.15V139.3"/><path class="cq" d="M0 27.77V139.3"/><path class="ch" d="M0 28.8V139.3"/><path class="ca" d="M0 31.11V139.3"/><path class="cc" d="M0 33.52V139.3"/><path class="cd" d="M0 34.35V139.3"/><path class="cg" d="M0 35.32V139.3"/><path class="cd" d="M0 36.15V139.3"/><path class="cl" d="M0 37.28V139.3"/><path class="ct" d="M0 39.33V139.3"/><path class="ca" d="M0 40.62V139.3"/><path class="cj" d="M0 42.67V139.3"/><path class="cc" d="M0 43.7V139.3"/><path class="ca" d="M0 46.78V139.3"/><path class="cp" d="M0 50.64V139.3"/><path class="ct" d="M0 51.15V139.3"/><path class="ca" d="M0 53.72V139.3"/><path class="cc" d="M0 57.5V139.3"/><path class="cd" d="M0 58.94V139.3"/><path class="ch" d="M0 59.89V139.3"/><path class="ca" d="M0 63.23V139.3"/><path class="cj" d="M0 65.41V139.3"/><path class="ca" d="M0 66.44V139.3"/><path class="cj" d="M0 70.63V139.3"/><path class="ca" d="M0 72.27V139.3"/><path class="cc" d="M0 75.71V139.3"/><path class="ca" d="M0 76.95V139.3"/><path class="cj" d="M0 79.16V139.3"/><path class="ca" d="M0 82.5V139.3"/><path class="cj" d="M0 84.43V139.3"/><path class="ca" d="M0 85.45V139.3"/><path class="cj" d="M0 87.64V139.3"/><path class="ca" d="M0 93.55V139.3"/>
</g>
<g transform="translate(584.5 524.52)" stroke-width="43">
<path class="cf" d="M0 0V139.3"/><path class="cr" d="M0 1.31V139.3"/><path class="ci" d="M0 3.36V139.3"/><path class="cr" d="M0 5.16V139.3"/><path class="cf" d="M0 7.22V139.3"/><path class="cg" d="M0 16.47V139.3"/><path class="cf" d="M0 17.49V139.3"/><path class="ci" d="M0 22.63V139.3"/><path class="co" d="M0 26.23V139.3"/><path class="cq" d="M0 28.28V139.3"/><path class="cr" d="M0 30.6V139.3"/><path class="cl" d="M0 37.02V139.3"/><path class="cr" d="M0 38.31V139.3"/><path class="cd" d="M0 39.33V139.3"/><path class="cr" d="M0 40.36V139.3"/><path class="ct" d="M0 51.15V139.3"/><path class="ca" d="M0 52.18V139.3"/><path class="cb" d="M0 53.98V139.3"/><path class="cd" d="M0 57.32V139.3"/><path class="ch" d="M0 58.35V139.3"/><path class="cj" d="M0 59.37V139.3"/><path class="cc" d="M0 60.4V139.3"/><path class="cd" d="M0 61.43V139.3"/><path class="cx" d="M0 62.46V139.3"/><path class="cj" d="M0 70.42V139.3"/><path class="cx" d="M0 72.22V139.3"/><path class="cd" d="M0 76.08V139.3"/><path class="cc" d="M0 77.33V139.3"/><path class="cd" d="M0 79.19V139.3"/><path class="cc" d="M0 80.54V139.3"/><path class="cd" d="M0 81.37V139.3"/><path class="cj" d="M0 82.5V139.3"/><path class="cd" d="M0 88.41V139.3"/><path class="ca" d="M0 93.55V139.3"/>
</g>
<rect x="85.15" y="524.52" width="520.35" height="139.3" fill="none" stroke="#000" stroke-width="1.2"/>
<text class="s" transform="translate(61.2 594.17) rotate(-90)" font-size="14.8" text-anchor="middle">LINE</text>
<text class="s" transform="translate(76.8 594.17) rotate(-90)" font-size="14.7" text-anchor="middle">n=2533</text>
<rect x="637.7" y="524.82" width="7.2" height="138.6" fill="url(#cw)" stroke="#000" stroke-width="1"/>
<path d="M644.9 524.82H650" stroke="#000" stroke-width="1.25"/>
<text class="s" x="655.6" y="529.72" font-size="14.2">1.00</text>
<path d="M644.9 559.47H650" stroke="#000" stroke-width="1.25"/>
<text class="s" x="655.6" y="564.37" font-size="14.2">0.75</text>
<path d="M644.9 594.12H650" stroke="#000" stroke-width="1.25"/>
<text class="s" x="655.6" y="599.02" font-size="14.2">0.50</text>
<path d="M644.9 628.77H650" stroke="#000" stroke-width="1.25"/>
<text class="s" x="655.6" y="633.67" font-size="14.2">0.25</text>
<path d="M644.9 663.42H650" stroke="#000" stroke-width="1.25"/>
<text class="s" x="655.6" y="668.32" font-size="14.2">0.00</text>
</g>
<g>
<g transform="translate(106.5 691.36)" stroke-width="43">
<path class="cp" d="M0 0V139.3"/><path class="cw" d="M0 3.78V139.3"/><path class="cp" d="M0 7.38V139.3"/><path class="cw" d="M0 10.35V139.3"/><path class="cp" d="M0 11.59V139.3"/><path class="cw" d="M0 12.39V139.3"/><path class="cp" d="M0 13.41V139.3"/><path class="cf" d="M0 17.86V139.3"/><path class="cp" d="M0 19.5V139.3"/><path class="cw" d="M0 21.43V139.3"/><path class="cp" d="M0 22.87V139.3"/><path class="cw" d="M0 25.77V139.3"/><path class="cp" d="M0 27.01V139.3"/><path class="cg" d="M0 28.44V139.3"/><path class="cw" d="M0 30.24V139.3"/><path class="cg" d="M0 31.53V139.3"/><path class="cw" d="M0 32.56V139.3"/><path class="cp" d="M0 34.1V139.3"/><path class="cw" d="M0 35.05V139.3"/><path class="cp" d="M0 36.49V139.3"/><path class="cd" d="M0 46.58V139.3"/><path class="cp" d="M0 47.82V139.3"/><path class="cw" d="M0 54.65V139.3"/><path class="ce" d="M0 56.71V139.3"/><path class="cp" d="M0 58.51V139.3"/><path class="ce" d="M0 61.23V139.3"/><path class="cp" d="M0 62.47V139.3"/><path class="cf" d="M0 63.85V139.3"/><path class="cp" d="M0 65.5V139.3"/><path class="cw" d="M0 72.59V139.3"/><path class="cp" d="M0 74.23V139.3"/><path class="ca" d="M0 80.09V139.3"/><path class="cv" d="M0 81.63V139.3"/><path class="cp" d="M0 82.92V139.3"/><path class="ce" d="M0 88.72V139.3"/><path class="cp" d="M0 89.96V139.3"/><path class="cw" d="M0 96.53V139.3"/><path class="cj" d="M0 98.59V139.3"/><path class="cp" d="M0 100.39V139.3"/><path class="cf" d="M0 103.68V139.3"/><path class="cp" d="M0 105.32V139.3"/><path class="ce" d="M0 107.47V139.3"/><path class="cp" d="M0 108.72V139.3"/><path class="ce" d="M0 110.56V139.3"/><path class="cp" d="M0 111.8V139.3"/><path class="cc" d="M0 112.98V139.3"/><path class="cw" d="M0 114.78V139.3"/><path class="cg" d="M0 116.32V139.3"/><path class="cw" d="M0 117.6V139.3"/><path class="cp" d="M0 119.4V139.3"/><path class="ct" d="M0 121.89V139.3"/><path class="cp" d="M0 123.33V139.3"/><path class="ch" d="M0 124.03V139.3"/><path class="cr" d="M0 125.57V139.3"/><path class="cd" d="M0 126.85V139.3"/><path class="cf" d="M0 128.14V139.3"/><path class="cp" d="M0 130.71V139.3"/><path class="ch" d="M0 135.77V139.3"/><path class="cp" d="M0 137.21V139.3"/>
</g>
<g transform="translate(150 691.36)" stroke-width="44">
<path class="cp" d="M0 0V139.3"/><path class="ct" d="M0 3.52V139.3"/><path class="cw" d="M0 5.06V139.3"/><path class="cp" d="M0 7.38V139.3"/><path class="cw" d="M0 10.13V139.3"/><path class="cp" d="M0 11.56V139.3"/><path class="cf" d="M0 17.86V139.3"/><path class="cp" d="M0 19.5V139.3"/><path class="cd" d="M0 20.48V139.3"/><path class="cu" d="M0 22.02V139.3"/><path class="cp" d="M0 23.31V139.3"/><path class="cw" d="M0 25.77V139.3"/><path class="cp" d="M0 27.01V139.3"/><path class="ch" d="M0 30.5V139.3"/><path class="cw" d="M0 32.56V139.3"/><path class="cp" d="M0 34.35V139.3"/><path class="cr" d="M0 35.02V139.3"/><path class="cp" d="M0 36.26V139.3"/><path class="cr" d="M0 57.12V139.3"/><path class="cp" d="M0 58.35V139.3"/><path class="ce" d="M0 64.31V139.3"/><path class="cp" d="M0 65.55V139.3"/><path class="cu" d="M0 79.81V139.3"/><path class="cp" d="M0 81.66V139.3"/><path class="ch" d="M0 88.46V139.3"/><path class="cp" d="M0 89.7V139.3"/><path class="ch" d="M0 96.74V139.3"/><path class="cp" d="M0 98.38V139.3"/><path class="cd" d="M0 110.56V139.3"/><path class="cp" d="M0 111.8V139.3"/><path class="cd" d="M0 113.39V139.3"/><path class="cp" d="M0 114.62V139.3"/><path class="cx" d="M0 117.35V139.3"/><path class="cr" d="M0 119.14V139.3"/><path class="cp" d="M0 119.91V139.3"/><path class="cj" d="M0 126.08V139.3"/><path class="cp" d="M0 130.71V139.3"/><path class="cj" d="M0 135.74V139.3"/><path class="cp" d="M0 136.98V139.3"/>
</g>
<g transform="translate(193.5 691.36)" stroke-width="43">
<path class="cp" d="M0 0V139.3"/><path class="ct" d="M0 3.52V139.3"/><path class="cw" d="M0 5.06V139.3"/><path class="cp" d="M0 7.38V139.3"/><path class="cw" d="M0 10.13V139.3"/><path class="cp" d="M0 11.56V139.3"/><path class="cf" d="M0 17.63V139.3"/><path class="cp" d="M0 19.48V139.3"/><path class="ch" d="M0 20.37V139.3"/><path class="cp" d="M0 21.61V139.3"/><path class="ce" d="M0 22.43V139.3"/><path class="cp" d="M0 23.67V139.3"/><path class="ce" d="M0 25.54V139.3"/><path class="cp" d="M0 26.98V139.3"/><path class="ce" d="M0 29.47V139.3"/><path class="cr" d="M0 31.78V139.3"/><path class="cp" d="M0 34.61V139.3"/><path class="ch" d="M0 35.26V139.3"/><path class="cp" d="M0 36.28V139.3"/><path class="ce" d="M0 46.58V139.3"/><path class="cp" d="M0 47.82V139.3"/><path class="cr" d="M0 54.86V139.3"/><path class="cp" d="M0 56.5V139.3"/><path class="ct" d="M0 57.35V139.3"/><path class="cp" d="M0 58.38V139.3"/><path class="ce" d="M0 64.31V139.3"/><path class="cp" d="M0 65.55V139.3"/><path class="cj" d="M0 80.01V139.3"/><path class="cp" d="M0 81.45V139.3"/><path class="cu" d="M0 82.3V139.3"/><path class="cp" d="M0 83.53V139.3"/><path class="cu" d="M0 88.46V139.3"/><path class="cp" d="M0 89.7V139.3"/><path class="cu" d="M0 96.74V139.3"/><path class="cp" d="M0 98.38V139.3"/><path class="cd" d="M0 104.14V139.3"/><path class="cp" d="M0 105.38V139.3"/><path class="ct" d="M0 111.33V139.3"/><path class="cp" d="M0 112.57V139.3"/><path class="cd" d="M0 113.39V139.3"/><path class="cp" d="M0 114.62V139.3"/><path class="ch" d="M0 118.04V139.3"/><path class="cp" d="M0 119.48V139.3"/><path class="cc" d="M0 124.18V139.3"/><path class="cp" d="M0 125.42V139.3"/><path class="cd" d="M0 126.59V139.3"/><path class="cr" d="M0 128.39V139.3"/><path class="cc" d="M0 129.42V139.3"/><path class="cp" d="M0 130.45V139.3"/><path class="cd" d="M0 135.33V139.3"/><path class="ch" d="M0 136.87V139.3"/><path class="cp" d="M0 138.16V139.3"/>
</g>
<g transform="translate(237 691.36)" stroke-width="44">
<path class="cp" d="M0 0V139.3"/><path class="cs" d="M0 3.52V139.3"/><path class="cp" d="M0 7.38V139.3"/><path class="cw" d="M0 18.09V139.3"/><path class="cp" d="M0 19.53V139.3"/><path class="cd" d="M0 20.37V139.3"/><path class="cp" d="M0 21.61V139.3"/><path class="ct" d="M0 30.5V139.3"/><path class="cr" d="M0 33.07V139.3"/><path class="ct" d="M0 33.84V139.3"/><path class="cp" d="M0 34.61V139.3"/><path class="ch" d="M0 35.26V139.3"/><path class="cp" d="M0 36.28V139.3"/><path class="cr" d="M0 46.58V139.3"/><path class="cp" d="M0 47.82V139.3"/><path class="ch" d="M0 57.35V139.3"/><path class="cp" d="M0 58.38V139.3"/><path class="ce" d="M0 64.31V139.3"/><path class="cp" d="M0 65.55V139.3"/><path class="ch" d="M0 79.78V139.3"/><path class="cp" d="M0 81.42V139.3"/><path class="cd" d="M0 82.3V139.3"/><path class="cp" d="M0 83.53V139.3"/><path class="cd" d="M0 88.46V139.3"/><path class="cp" d="M0 89.7V139.3"/><path class="cx" d="M0 96.74V139.3"/><path class="cp" d="M0 98.38V139.3"/><path class="cw" d="M0 104.14V139.3"/><path class="cp" d="M0 105.38V139.3"/><path class="cd" d="M0 110.56V139.3"/><path class="cp" d="M0 111.8V139.3"/><path class="cj" d="M0 113.39V139.3"/><path class="cp" d="M0 114.62V139.3"/><path class="cc" d="M0 118.09V139.3"/><path class="cp" d="M0 119.94V139.3"/><path class="cd" d="M0 124.18V139.3"/><path class="cp" d="M0 125.42V139.3"/><path class="cd" d="M0 126.85V139.3"/><path class="cp" d="M0 128.9V139.3"/><path class="cj" d="M0 135.33V139.3"/><path class="cw" d="M0 136.36V139.3"/>
</g>
<g transform="translate(280.5 691.36)" stroke-width="43">
<path class="cp" d="M0 0V139.3"/><path class="cr" d="M0 3.52V139.3"/><path class="ch" d="M0 5.06V139.3"/><path class="cp" d="M0 7.63V139.3"/><path class="ch" d="M0 10.1V139.3"/><path class="cp" d="M0 11.34V139.3"/><path class="cq" d="M0 18.09V139.3"/><path class="cp" d="M0 19.53V139.3"/><path class="cd" d="M0 20.35V139.3"/><path class="cp" d="M0 21.38V139.3"/><path class="cc" d="M0 22.17V139.3"/><path class="cp" d="M0 23.41V139.3"/><path class="cw" d="M0 25.54V139.3"/><path class="cp" d="M0 26.98V139.3"/><path class="cw" d="M0 28.44V139.3"/><path class="ct" d="M0 30.5V139.3"/><path class="cr" d="M0 34.61V139.3"/><path class="cp" d="M0 36.41V139.3"/><path class="cd" d="M0 46.58V139.3"/><path class="cp" d="M0 47.82V139.3"/><path class="cr" d="M0 54.83V139.3"/><path class="cp" d="M0 56.27V139.3"/><path class="cu" d="M0 57.35V139.3"/><path class="cp" d="M0 58.38V139.3"/><path class="ch" d="M0 61.23V139.3"/><path class="cp" d="M0 62.47V139.3"/><path class="cf" d="M0 64.31V139.3"/><path class="cp" d="M0 65.55V139.3"/><path class="ch" d="M0 72.59V139.3"/><path class="cp" d="M0 74.23V139.3"/><path class="cj" d="M0 79.58V139.3"/><path class="cr" d="M0 81.63V139.3"/><path class="cp" d="M0 82.92V139.3"/><path class="cd" d="M0 89.23V139.3"/><path class="cp" d="M0 90.47V139.3"/><path class="cx" d="M0 96.74V139.3"/><path class="cp" d="M0 98.38V139.3"/><path class="cd" d="M0 104.14V139.3"/><path class="cp" d="M0 105.38V139.3"/><path class="ch" d="M0 110.56V139.3"/><path class="cp" d="M0 111.8V139.3"/><path class="cj" d="M0 113.39V139.3"/><path class="cp" d="M0 114.62V139.3"/><path class="cc" d="M0 118.09V139.3"/><path class="cp" d="M0 119.94V139.3"/><path class="cd" d="M0 124.18V139.3"/><path class="cp" d="M0 125.42V139.3"/><path class="cj" d="M0 126.59V139.3"/><path class="cp" d="M0 130.45V139.3"/><path class="cv" d="M0 136.1V139.3"/>
</g>
<g transform="translate(324 691.36)" stroke-width="44">
<path class="cp" d="M0 0V139.3"/><path class="cr" d="M0 3.52V139.3"/><path class="ct" d="M0 5.06V139.3"/><path class="cp" d="M0 7.63V139.3"/><path class="cq" d="M0 17.86V139.3"/><path class="cp" d="M0 19.5V139.3"/><path class="cr" d="M0 21.17V139.3"/><path class="cp" d="M0 22.61V139.3"/><path class="cw" d="M0 28.44V139.3"/><path class="ct" d="M0 30.5V139.3"/><path class="cq" d="M0 34.61V139.3"/><path class="cp" d="M0 36.41V139.3"/><path class="cu" d="M0 46.58V139.3"/><path class="cp" d="M0 47.82V139.3"/><path class="cr" d="M0 54.86V139.3"/><path class="cp" d="M0 56.5V139.3"/><path class="cd" d="M0 57.37V139.3"/><path class="cp" d="M0 58.61V139.3"/><path class="cd" d="M0 61.23V139.3"/><path class="cp" d="M0 62.47V139.3"/><path class="ch" d="M0 72.59V139.3"/><path class="cp" d="M0 74.23V139.3"/><path class="cj" d="M0 79.58V139.3"/><path class="ct" d="M0 81.37V139.3"/><path class="cp" d="M0 83.43V139.3"/><path class="cs" d="M0 88.57V139.3"/><path class="cd" d="M0 89.34V139.3"/><path class="cp" d="M0 90.62V139.3"/><path class="cx" d="M0 96.53V139.3"/><path class="cj" d="M0 98.85V139.3"/><path class="cp" d="M0 100.64V139.3"/><path class="ch" d="M0 104.14V139.3"/><path class="cp" d="M0 105.38V139.3"/><path class="cd" d="M0 110.56V139.3"/><path class="cp" d="M0 111.8V139.3"/><path class="cc" d="M0 113.39V139.3"/><path class="cp" d="M0 114.62V139.3"/><path class="cc" d="M0 118.04V139.3"/><path class="cp" d="M0 119.48V139.3"/><path class="cd" d="M0 124.18V139.3"/><path class="cp" d="M0 125.42V139.3"/><path class="cd" d="M0 126.59V139.3"/><path class="cp" d="M0 130.45V139.3"/><path class="ch" d="M0 135.77V139.3"/><path class="cp" d="M0 137.21V139.3"/>
</g>
<g transform="translate(367.5 691.36)" stroke-width="43">
<path class="cp" d="M0 0V139.3"/><path class="cr" d="M0 3.52V139.3"/><path class="ct" d="M0 5.06V139.3"/><path class="cp" d="M0 7.63V139.3"/><path class="cj" d="M0 10.1V139.3"/><path class="cp" d="M0 11.34V139.3"/><path class="cf" d="M0 18.09V139.3"/><path class="cp" d="M0 19.53V139.3"/><path class="ct" d="M0 20.37V139.3"/><path class="cp" d="M0 21.61V139.3"/><path class="cd" d="M0 23.46V139.3"/><path class="cp" d="M0 24.7V139.3"/><path class="cw" d="M0 28.44V139.3"/><path class="ct" d="M0 30.5V139.3"/><path class="cq" d="M0 35.13V139.3"/><path class="cp" d="M0 36.67V139.3"/><path class="cr" d="M0 46.58V139.3"/><path class="cp" d="M0 47.82V139.3"/><path class="cr" d="M0 54.86V139.3"/><path class="cp" d="M0 56.5V139.3"/><path class="cr" d="M0 57.35V139.3"/><path class="cp" d="M0 58.38V139.3"/><path class="cd" d="M0 61.23V139.3"/><path class="cp" d="M0 62.47V139.3"/><path class="cc" d="M0 64.31V139.3"/><path class="cp" d="M0 65.55V139.3"/><path class="cx" d="M0 72.59V139.3"/><path class="cp" d="M0 74.23V139.3"/><path class="cu" d="M0 79.58V139.3"/><path class="ct" d="M0 81.37V139.3"/><path class="cc" d="M0 82.66V139.3"/><path class="cp" d="M0 83.43V139.3"/><path class="cr" d="M0 88.57V139.3"/><path class="cd" d="M0 89.6V139.3"/><path class="cp" d="M0 90.62V139.3"/><path class="cx" d="M0 96.53V139.3"/><path class="cj" d="M0 98.85V139.3"/><path class="cp" d="M0 100.64V139.3"/><path class="cd" d="M0 104.14V139.3"/><path class="cp" d="M0 105.38V139.3"/><path class="cd" d="M0 110.56V139.3"/><path class="cp" d="M0 111.8V139.3"/><path class="cj" d="M0 113.39V139.3"/><path class="cp" d="M0 114.62V139.3"/><path class="cc" d="M0 118.04V139.3"/><path class="cp" d="M0 119.48V139.3"/><path class="cc" d="M0 124.18V139.3"/><path class="cp" d="M0 125.42V139.3"/><path class="cj" d="M0 126.59V139.3"/><path class="cp" d="M0 130.45V139.3"/><path class="cv" d="M0 136.1V139.3"/>
</g>
<g transform="translate(411 691.36)" stroke-width="44">
<path class="cp" d="M0 0V139.3"/><path class="ct" d="M0 3.52V139.3"/><path class="cp" d="M0 7.63V139.3"/><path class="cs" d="M0 10.1V139.3"/><path class="cp" d="M0 11.34V139.3"/><path class="cr" d="M0 17.86V139.3"/><path class="cp" d="M0 19.5V139.3"/><path class="cc" d="M0 20.22V139.3"/><path class="cd" d="M0 21.76V139.3"/><path class="cp" d="M0 23.56V139.3"/><path class="cw" d="M0 25.54V139.3"/><path class="cp" d="M0 26.98V139.3"/><path class="cu" d="M0 30.76V139.3"/><path class="cr" d="M0 33.07V139.3"/><path class="cp" d="M0 34.35V139.3"/><path class="ch" d="M0 35.02V139.3"/><path class="cp" d="M0 36.26V139.3"/><path class="cs" d="M0 54.83V139.3"/><path class="cp" d="M0 56.27V139.3"/><path class="ct" d="M0 57.35V139.3"/><path class="cp" d="M0 58.38V139.3"/><path class="cd" d="M0 61.23V139.3"/><path class="cp" d="M0 62.47V139.3"/><path class="ce" d="M0 64.31V139.3"/><path class="cp" d="M0 65.55V139.3"/><path class="cj" d="M0 72.59V139.3"/><path class="cp" d="M0 74.23V139.3"/><path class="cj" d="M0 75.67V139.3"/><path class="cp" d="M0 77.31V139.3"/><path class="ct" d="M0 79.58V139.3"/><path class="cc" d="M0 81.12V139.3"/><path class="cp" d="M0 83.17V139.3"/><path class="cd" d="M0 89.23V139.3"/><path class="cp" d="M0 90.47V139.3"/><path class="cx" d="M0 96.74V139.3"/><path class="cp" d="M0 98.38V139.3"/><path class="ca" d="M0 103.44V139.3"/><path class="cp" d="M0 105.3V139.3"/><path class="ca" d="M0 107.47V139.3"/><path class="cp" d="M0 108.72V139.3"/><path class="ch" d="M0 110.56V139.3"/><path class="cp" d="M0 111.8V139.3"/><path class="cj" d="M0 113.39V139.3"/><path class="cp" d="M0 114.62V139.3"/><path class="cc" d="M0 118.06V139.3"/><path class="cp" d="M0 119.7V139.3"/><path class="cc" d="M0 124.18V139.3"/><path class="cp" d="M0 125.42V139.3"/><path class="cj" d="M0 126.59V139.3"/><path class="cc" d="M0 128.14V139.3"/><path class="cj" d="M0 129.16V139.3"/><path class="cp" d="M0 130.45V139.3"/><path class="cv" d="M0 136.1V139.3"/>
</g>
<g transform="translate(454.5 691.36)" stroke-width="43">
<path class="cp" d="M0 0V139.3"/><path class="ct" d="M0 3.52V139.3"/><path class="cp" d="M0 7.63V139.3"/><path class="cr" d="M0 17.86V139.3"/><path class="cp" d="M0 19.5V139.3"/><path class="cc" d="M0 20.37V139.3"/><path class="cp" d="M0 21.61V139.3"/><path class="cd" d="M0 23.18V139.3"/><path class="cp" d="M0 24.2V139.3"/><path class="cw" d="M0 25.54V139.3"/><path class="cp" d="M0 26.98V139.3"/><path class="ch" d="M0 30.76V139.3"/><path class="ct" d="M0 32.81V139.3"/><path class="cr" d="M0 34.61V139.3"/><path class="cp" d="M0 36.41V139.3"/><path class="cq" d="M0 54.83V139.3"/><path class="cp" d="M0 56.27V139.3"/><path class="cu" d="M0 57.35V139.3"/><path class="cp" d="M0 58.38V139.3"/><path class="cj" d="M0 61.23V139.3"/><path class="cp" d="M0 62.47V139.3"/><path class="cr" d="M0 64.31V139.3"/><path class="cp" d="M0 65.55V139.3"/><path class="cj" d="M0 72.59V139.3"/><path class="cp" d="M0 74.23V139.3"/><path class="cc" d="M0 79.58V139.3"/><path class="cj" d="M0 81.89V139.3"/><path class="cc" d="M0 82.66V139.3"/><path class="cp" d="M0 83.17V139.3"/><path class="cq" d="M0 88.46V139.3"/><path class="cp" d="M0 89.7V139.3"/><path class="cx" d="M0 96.74V139.3"/><path class="cp" d="M0 98.38V139.3"/><path class="cd" d="M0 104.14V139.3"/><path class="cp" d="M0 105.38V139.3"/><path class="cc" d="M0 110.56V139.3"/><path class="cp" d="M0 111.8V139.3"/><path class="cc" d="M0 113.23V139.3"/><path class="cx" d="M0 114.78V139.3"/><path class="cj" d="M0 116.57V139.3"/><path class="cx" d="M0 117.6V139.3"/><path class="cp" d="M0 119.91V139.3"/><path class="cc" d="M0 124.18V139.3"/><path class="cp" d="M0 125.42V139.3"/><path class="cj" d="M0 126.59V139.3"/><path class="cp" d="M0 130.45V139.3"/><path class="cg" d="M0 136.31V139.3"/><path class="cp" d="M0 137.95V139.3"/>
</g>
<g transform="translate(498 691.36)" stroke-width="44">
<path class="cp" d="M0 0V139.3"/><path class="cw" d="M0 3.26V139.3"/><path class="cg" d="M0 4.81V139.3"/><path class="cp" d="M0 7.63V139.3"/><path class="cw" d="M0 11.67V139.3"/><path class="cp" d="M0 13.11V139.3"/><path class="cf" d="M0 17.63V139.3"/><path class="cp" d="M0 19.48V139.3"/><path class="cq" d="M0 20.45V139.3"/><path class="cp" d="M0 22.31V139.3"/><path class="cj" d="M0 23.18V139.3"/><path class="cp" d="M0 24.2V139.3"/><path class="cw" d="M0 25.54V139.3"/><path class="cp" d="M0 26.98V139.3"/><path class="cw" d="M0 28.44V139.3"/><path class="cg" d="M0 29.99V139.3"/><path class="cw" d="M0 31.01V139.3"/><path class="cg" d="M0 32.3V139.3"/><path class="cw" d="M0 33.33V139.3"/><path class="cg" d="M0 34.61V139.3"/><path class="cw" d="M0 35.38V139.3"/><path class="cp" d="M0 36.67V139.3"/><path class="cq" d="M0 45.87V139.3"/><path class="cp" d="M0 47.51V139.3"/><path class="cw" d="M0 54.65V139.3"/><path class="cg" d="M0 56.19V139.3"/><path class="cw" d="M0 56.96V139.3"/><path class="cp" d="M0 58.51V139.3"/><path class="ce" d="M0 61.23V139.3"/><path class="cp" d="M0 62.47V139.3"/><path class="cf" d="M0 63.85V139.3"/><path class="cp" d="M0 65.5V139.3"/><path class="cw" d="M0 69.48V139.3"/><path class="cp" d="M0 70.92V139.3"/><path class="ch" d="M0 72.59V139.3"/><path class="cp" d="M0 74.23V139.3"/><path class="cf" d="M0 79.32V139.3"/><path class="cp" d="M0 83.17V139.3"/><path class="cf" d="M0 88.77V139.3"/><path class="cp" d="M0 90.42V139.3"/><path class="cg" d="M0 96.53V139.3"/><path class="cw" d="M0 98.85V139.3"/><path class="cp" d="M0 100.39V139.3"/><path class="cr" d="M0 103.47V139.3"/><path class="ce" d="M0 104.5V139.3"/><path class="cp" d="M0 106.3V139.3"/><path class="cr" d="M0 107.47V139.3"/><path class="cp" d="M0 108.72V139.3"/><path class="cr" d="M0 110.56V139.3"/><path class="cp" d="M0 111.8V139.3"/><path class="co" d="M0 113.23V139.3"/><path class="cw" d="M0 114.78V139.3"/><path class="cg" d="M0 116.32V139.3"/><path class="cw" d="M0 117.09V139.3"/><path class="cq" d="M0 118.12V139.3"/><path class="cp" d="M0 119.91V139.3"/><path class="cq" d="M0 124.18V139.3"/><path class="cp" d="M0 125.42V139.3"/><path class="cr" d="M0 126.59V139.3"/><path class="co" d="M0 127.62V139.3"/><path class="ce" d="M0 128.65V139.3"/><path class="cp" d="M0 130.45V139.3"/>
</g>
<g transform="translate(541.5 691.36)" stroke-width="43">
<path class="cc" d="M0 0V139.3"/><path class="cg" d="M0 2.24V139.3"/><path class="cj" d="M0 3.78V139.3"/><path class="cd" d="M0 6.61V139.3"/><path class="cg" d="M0 7.38V139.3"/><path class="cv" d="M0 9.69V139.3"/><path class="cd" d="M0 12.51V139.3"/><path class="cf" d="M0 15.09V139.3"/><path class="cd" d="M0 17.14V139.3"/><path class="cr" d="M0 20.1V139.3"/><path class="cd" d="M0 21.12V139.3"/><path class="cr" d="M0 23.31V139.3"/><path class="co" d="M0 25.36V139.3"/><path class="cr" d="M0 26.9V139.3"/><path class="ca" d="M0 32.04V139.3"/><path class="ct" d="M0 34.1V139.3"/><path class="cl" d="M0 35.13V139.3"/><path class="ca" d="M0 37.69V139.3"/><path class="cr" d="M0 40.7V139.3"/><path class="ca" d="M0 42.14V139.3"/><path class="cg" d="M0 43.48V139.3"/><path class="ca" d="M0 44.5V139.3"/><path class="ct" d="M0 46.89V139.3"/><path class="ca" d="M0 48.54V139.3"/><path class="cj" d="M0 51.41V139.3"/><path class="ca" d="M0 52.24V139.3"/><path class="ch" d="M0 55.6V139.3"/><path class="ca" d="M0 57.04V139.3"/><path class="ch" d="M0 61.46V139.3"/><path class="cd" d="M0 62.49V139.3"/><path class="cc" d="M0 64.08V139.3"/><path class="ca" d="M0 65.52V139.3"/><path class="cj" d="M0 67.37V139.3"/><path class="ca" d="M0 68.4V139.3"/><path class="cj" d="M0 69.68V139.3"/><path class="ca" d="M0 70.71V139.3"/><path class="cx" d="M0 72.64V139.3"/><path class="ca" d="M0 75.72V139.3"/><path class="cj" d="M0 77.78V139.3"/><path class="ca" d="M0 83.43V139.3"/><path class="cj" d="M0 86.51V139.3"/><path class="ca" d="M0 91.14V139.3"/>
</g>
<g transform="translate(584.5 691.36)" stroke-width="43">
<path class="cf" d="M0 0V139.3"/><path class="cv" d="M0 6.61V139.3"/><path class="cg" d="M0 8.4V139.3"/><path class="cr" d="M0 10.72V139.3"/><path class="cf" d="M0 12.26V139.3"/><path class="cs" d="M0 16.37V139.3"/><path class="cf" d="M0 17.4V139.3"/><path class="ct" d="M0 20.22V139.3"/><path class="cq" d="M0 21.25V139.3"/><path class="co" d="M0 23.82V139.3"/><path class="cq" d="M0 25.1V139.3"/><path class="ca" d="M0 26.9V139.3"/><path class="cu" d="M0 28.96V139.3"/><path class="co" d="M0 30.5V139.3"/><path class="cr" d="M0 32.3V139.3"/><path class="cd" d="M0 37.18V139.3"/><path class="cr" d="M0 38.44V139.3"/><path class="cd" d="M0 40.29V139.3"/><path class="cr" d="M0 41.52V139.3"/><path class="cd" d="M0 43.37V139.3"/><path class="cr" d="M0 44.63V139.3"/><path class="cd" d="M0 46.68V139.3"/><path class="cc" d="M0 48.49V139.3"/><path class="cu" d="M0 49.51V139.3"/><path class="cd" d="M0 55.68V139.3"/><path class="cx" d="M0 57.22V139.3"/><path class="cd" d="M0 61.59V139.3"/><path class="ch" d="M0 62.8V139.3"/><path class="cd" d="M0 64.24V139.3"/><path class="cx" d="M0 65.44V139.3"/><path class="ca" d="M0 73.67V139.3"/><path class="cc" d="M0 75.98V139.3"/><path class="ca" d="M0 78.03V139.3"/><path class="cc" d="M0 80.24V139.3"/><path class="cd" d="M0 81.48V139.3"/><path class="cj" d="M0 82.66V139.3"/><path class="ca" d="M0 86.51V139.3"/>
</g>
<rect x="85.15" y="691.36" width="520.35" height="139.3" fill="none" stroke="#000" stroke-width="1.2"/>
<text class="s" transform="translate(61.2 761.01) rotate(-90)" font-size="14.8" text-anchor="middle">LTR</text>
<text class="s" transform="translate(76.8 761.01) rotate(-90)" font-size="14.7" text-anchor="middle">n=1631</text>
<rect x="637.7" y="691.66" width="7.2" height="138.6" fill="url(#cw)" stroke="#000" stroke-width="1"/>
<path d="M644.9 691.66H650" stroke="#000" stroke-width="1.25"/>
<text class="s" x="655.6" y="696.56" font-size="14.2">1.00</text>
<path d="M644.9 726.31H650" stroke="#000" stroke-width="1.25"/>
<text class="s" x="655.6" y="731.21" font-size="14.2">0.75</text>
<path d="M644.9 760.96H650" stroke="#000" stroke-width="1.25"/>
<text class="s" x="655.6" y="765.86" font-size="14.2">0.50</text>
<path d="M644.9 795.61H650" stroke="#000" stroke-width="1.25"/>
<text class="s" x="655.6" y="800.51" font-size="14.2">0.25</text>
<path d="M644.9 830.26H650" stroke="#000" stroke-width="1.25"/>
<text class="s" x="655.6" y="835.16" font-size="14.2">0.00</text>
</g>
<path d="M106.89 830.66V835.76" stroke="#000" stroke-width="1.25"/>
<text class="s" transform="translate(110.69 840.96) rotate(-90)" font-size="14.45" text-anchor="end">Sperm</text>
<path d="M150.27 830.66V835.76" stroke="#000" stroke-width="1.25"/>
<text class="s" transform="translate(154.07 840.96) rotate(-90)" font-size="14.45" text-anchor="end">Oocyte</text>
<path d="M193.66 830.66V835.76" stroke="#000" stroke-width="1.25"/>
<text class="s" transform="translate(197.46 840.96) rotate(-90)" font-size="14.45" text-anchor="end">Zygote</text>
<path d="M237.04 830.66V835.76" stroke="#000" stroke-width="1.25"/>
<text class="s" transform="translate(240.84 840.96) rotate(-90)" font-size="14.45" text-anchor="end">2-cell</text>
<path d="M280.43 830.66V835.76" stroke="#000" stroke-width="1.25"/>
<text class="s" transform="translate(284.23 840.96) rotate(-90)" font-size="14.45" text-anchor="end">4-cell</text>
<path d="M323.81 830.66V835.76" stroke="#000" stroke-width="1.25"/>
<text class="s" transform="translate(327.61 840.96) rotate(-90)" font-size="14.45" text-anchor="end">8-cell</text>
<path d="M367.19 830.66V835.76" stroke="#000" stroke-width="1.25"/>
<text class="s" transform="translate(370.99 840.96) rotate(-90)" font-size="14.45" text-anchor="end">Morula</text>
<path d="M410.57 830.66V835.76" stroke="#000" stroke-width="1.25"/>
<text class="s" transform="translate(414.38 840.96) rotate(-90)" font-size="14.45" text-anchor="end">ICM</text>
<path d="M453.96 830.66V835.76" stroke="#000" stroke-width="1.25"/>
<text class="s" transform="translate(457.76 840.96) rotate(-90)" font-size="14.45" text-anchor="end">TE</text>
<path d="M497.34 830.66V835.76" stroke="#000" stroke-width="1.25"/>
<text class="d" transform="translate(499.74 840.26) rotate(-90)" font-size="14.45" text-anchor="end">Postimplantation</text>
<path d="M540.73 830.66V835.76" stroke="#000" stroke-width="1.25"/>
<text class="d" transform="translate(545.02 840.26) rotate(-90) scale(.945 1)" font-size="14.45" text-anchor="end">5CC</text>
<path d="M584.11 830.66V835.76" stroke="#000" stroke-width="1.25"/>
<text class="d" transform="translate(588.41 840.26) rotate(-90) scale(.945 1)" font-size="14.45" text-anchor="end">4CC</text>
<rect x="104.2" y="1341.77" width="41.6" height="22.63" fill="#3274a1"/>
<rect x="145.2" y="1313.23" width="41" height="51.17" fill="#e1812c"/>
<path d="M124.7 1346.81V1336.14" stroke="#5a5a5a" stroke-width="3.2"/>
<path d="M165.71 1320.61V1305.08" stroke="#5a5a5a" stroke-width="3.2"/>
<rect x="206.71" y="1360.4" width="41.6" height="4" fill="#3274a1"/>
<rect x="247.71" y="1361.37" width="41" height="3.03" fill="#e1812c"/>
<path d="M227.21 1362.64V1357.2" stroke="#5a5a5a" stroke-width="3.2"/>
<path d="M268.22 1363.31V1358.46" stroke="#5a5a5a" stroke-width="3.2"/>
<rect x="309.22" y="1206.56" width="41.6" height="157.84" fill="#3274a1"/>
<rect x="350.22" y="1045.15" width="41" height="319.25" fill="#e1812c"/>
<path d="M329.72 1225V1188.61" stroke="#5a5a5a" stroke-width="3.2"/>
<path d="M370.73 1068.74V1020.21" stroke="#5a5a5a" stroke-width="3.2"/>
<rect x="411.73" y="1139.3" width="41.6" height="225.1" fill="#3274a1"/>
<rect x="452.73" y="1037.1" width="41" height="327.3" fill="#e1812c"/>
<path d="M432.23 1173.08V1105.62" stroke="#5a5a5a" stroke-width="3.2"/>
<path d="M473.24 1074.08V999.83" stroke="#5a5a5a" stroke-width="3.2"/>
<rect x="514.24" y="1175.02" width="41.6" height="189.38" fill="#3274a1"/>
<rect x="555.25" y="1077.18" width="41" height="287.22" fill="#e1812c"/>
<path d="M534.74 1198.8V1149.3" stroke="#5a5a5a" stroke-width="3.2"/>
<path d="M575.75 1106.59V1046.41" stroke="#5a5a5a" stroke-width="3.2"/>
<rect x="93.95" y="982.8" width="512.55" height="381.6" fill="none" stroke="#2e2e2e" stroke-width="1.7"/>
<path d="M88.95 1364.4H93.95" stroke="#2b2b2b" stroke-width="1.2"/>
<text class="d n" transform="translate(84.05 1369.9) scale(.935 1)" font-size="14.9" text-anchor="end">0</text>
<path d="M88.95 1315.77H93.95" stroke="#2b2b2b" stroke-width="1.2"/>
<text class="d n" transform="translate(84.05 1321.27) scale(.935 1)" font-size="14.9" text-anchor="end">5</text>
<path d="M88.95 1267.14H93.95" stroke="#2b2b2b" stroke-width="1.2"/>
<text class="d n" transform="translate(84.05 1272.64) scale(.935 1)" font-size="14.9" text-anchor="end">10</text>
<path d="M88.95 1218.51H93.95" stroke="#2b2b2b" stroke-width="1.2"/>
<text class="d n" transform="translate(84.05 1224.01) scale(.935 1)" font-size="14.9" text-anchor="end">15</text>
<path d="M88.95 1169.88H93.95" stroke="#2b2b2b" stroke-width="1.2"/>
<text class="d n" transform="translate(84.05 1175.38) scale(.935 1)" font-size="14.9" text-anchor="end">20</text>
<path d="M88.95 1121.25H93.95" stroke="#2b2b2b" stroke-width="1.2"/>
<text class="d n" transform="translate(84.05 1126.75) scale(.935 1)" font-size="14.9" text-anchor="end">25</text>
<path d="M88.95 1072.62H93.95" stroke="#2b2b2b" stroke-width="1.2"/>
<text class="d n" transform="translate(84.05 1078.12) scale(.935 1)" font-size="14.9" text-anchor="end">30</text>
<path d="M88.95 1023.99H93.95" stroke="#2b2b2b" stroke-width="1.2"/>
<text class="d n" transform="translate(84.05 1029.49) scale(.935 1)" font-size="14.9" text-anchor="end">35</text>
<path d="M145.2 1364.4V1369.4" stroke="#2b2b2b" stroke-width="1.2"/>
<text class="d n" transform="translate(145.2 1384.9) scale(.965 1)" font-size="14.9" text-anchor="middle">CGI</text>
<path d="M247.71 1364.4V1369.4" stroke="#2b2b2b" stroke-width="1.2"/>
<text class="d n" transform="translate(247.71 1384.9) scale(.965 1)" font-size="14.9" text-anchor="middle">Promoter</text>
<path d="M350.22 1364.4V1369.4" stroke="#2b2b2b" stroke-width="1.2"/>
<text class="d n" transform="translate(350.22 1384.9) scale(.965 1)" font-size="14.9" text-anchor="middle">SINE</text>
<path d="M452.73 1364.4V1369.4" stroke="#2b2b2b" stroke-width="1.2"/>
<text class="d n" transform="translate(452.73 1384.9) scale(.965 1)" font-size="14.9" text-anchor="middle">LINE</text>
<path d="M555.25 1364.4V1369.4" stroke="#2b2b2b" stroke-width="1.2"/>
<text class="d n" transform="translate(555.25 1384.9) scale(.965 1)" font-size="14.9" text-anchor="middle">LTR</text>
<text class="d n" transform="translate(50.7 1190.5) rotate(-90) scale(.938 1)" font-size="17.9" text-anchor="middle">Methylation Level (%)</text>
<rect x="612.9" y="1040.1" width="25.2" height="8.8" fill="#3274a1"/>
<rect x="612.9" y="1058.8" width="25.2" height="8.8" fill="#e1812c"/>
<text class="d n" transform="translate(654.2 1048.4) scale(.905 1)" font-size="14.2">5CC</text>
<text class="d n" transform="translate(654.2 1069.2) scale(.905 1)" font-size="14.2">4CC</text>
</svg></body></html>
